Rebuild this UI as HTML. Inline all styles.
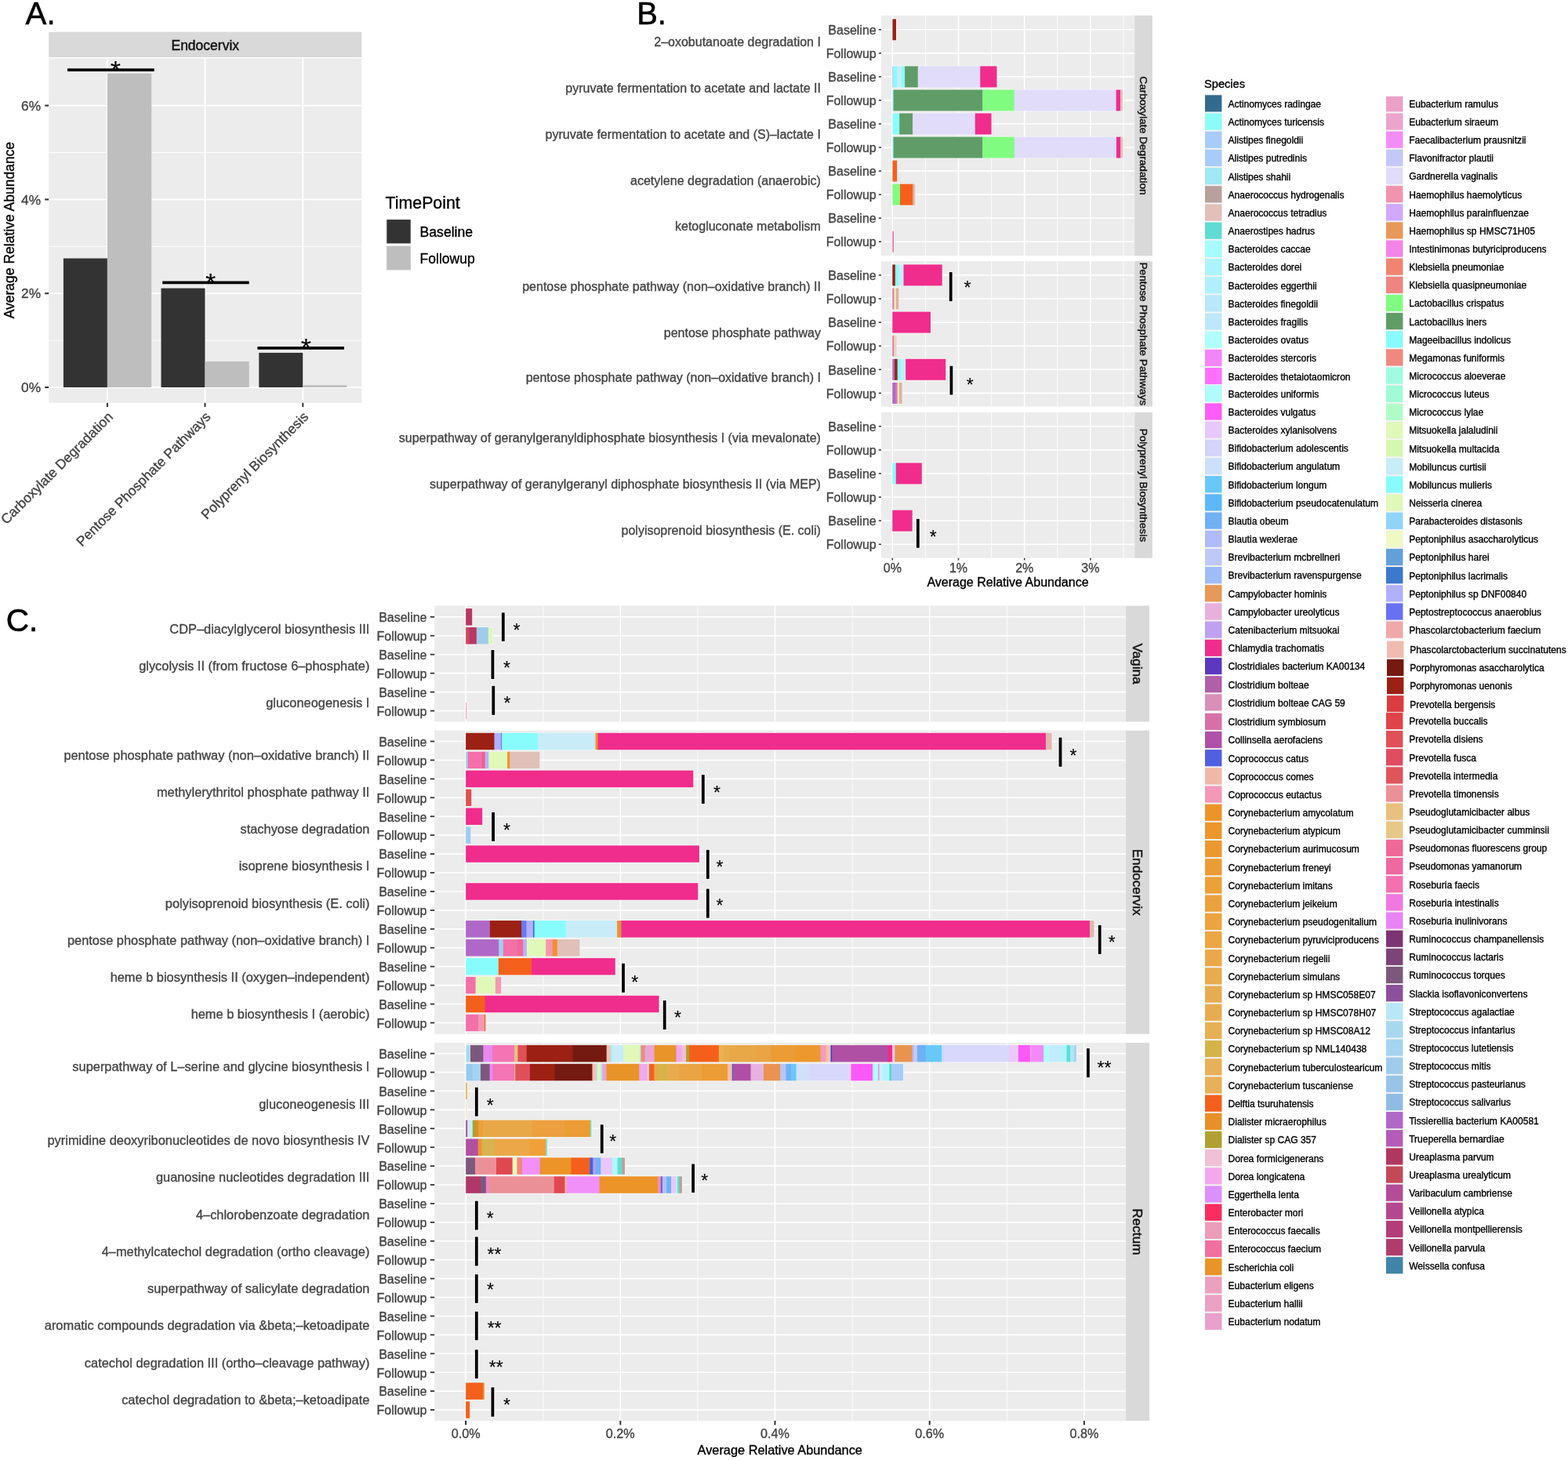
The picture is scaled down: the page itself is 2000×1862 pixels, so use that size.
<!DOCTYPE html>
<html lang="en">
<head>
<meta charset="utf-8">
<title>Figure: pathway abundance by timepoint and species</title>
<style>
html,body{margin:0;padding:0;background:#fff;}
body{width:2000px;height:1862px;overflow:hidden;font-family:"Liberation Sans",Arial,Helvetica,sans-serif;}
svg{display:block;}
text{white-space:pre;}
</style>
</head>
<body>
<svg width="2000" height="1862" viewBox="0 0 2000 1862" font-family="&quot;Liberation Sans&quot;, Arial, Helvetica, sans-serif">
<rect x="0" y="0" width="2000" height="1862" fill="#FFFFFF"/>
<g id="panelA">
<text x="32.5" y="31.1" font-size="40.3" fill="#000" stroke="#000" stroke-width="0.6">A.</text>
<rect x="62.2" y="40.7" width="399.1" height="32.3" fill="#D9D9D9"/>
<text x="261.75" y="64" font-size="17.5" text-anchor="middle" fill="#111111" stroke="#111111" stroke-width="0.45">Endocervix</text>
<rect x="62.2" y="74.4" width="399.1" height="439.4" fill="#EBECEB"/>
<line x1="62.2" y1="434.1" x2="461.3" y2="434.1" stroke="#FFFFFF" stroke-width="1"/>
<line x1="62.2" y1="314.3" x2="461.3" y2="314.3" stroke="#FFFFFF" stroke-width="1"/>
<line x1="62.2" y1="194.5" x2="461.3" y2="194.5" stroke="#FFFFFF" stroke-width="1"/>
<line x1="62.2" y1="494" x2="461.3" y2="494" stroke="#FFFFFF" stroke-width="1.9"/>
<line x1="62.2" y1="374.2" x2="461.3" y2="374.2" stroke="#FFFFFF" stroke-width="1.9"/>
<line x1="62.2" y1="254.4" x2="461.3" y2="254.4" stroke="#FFFFFF" stroke-width="1.9"/>
<line x1="62.2" y1="134.6" x2="461.3" y2="134.6" stroke="#FFFFFF" stroke-width="1.9"/>
<line x1="136.9" y1="74.4" x2="136.9" y2="513.8" stroke="#FFFFFF" stroke-width="1.9"/>
<line x1="261.5" y1="74.4" x2="261.5" y2="513.8" stroke="#FFFFFF" stroke-width="1.9"/>
<line x1="386.3" y1="74.4" x2="386.3" y2="513.8" stroke="#FFFFFF" stroke-width="1.9"/>
<rect x="80.9" y="329.5" width="56" height="164.5" fill="#333333"/>
<rect x="136.9" y="93.7" width="56.3" height="400.3" fill="#BEBEBE"/>
<rect x="205.5" y="367.6" width="56" height="126.4" fill="#333333"/>
<rect x="261.5" y="461" width="56.2" height="33" fill="#BEBEBE"/>
<rect x="330.3" y="449.9" width="56" height="44.1" fill="#333333"/>
<rect x="386.3" y="491.2" width="56" height="2.8" fill="#BEBEBE"/>
<text x="147.4" y="100.6" font-size="34" text-anchor="middle" fill="#000" stroke="#000" stroke-width="0.1">*</text>
<rect x="86" y="87.35" width="110.7" height="3.7" fill="#000"/>
<text x="268.7" y="371.8" font-size="34" text-anchor="middle" fill="#000" stroke="#000" stroke-width="0.1">*</text>
<rect x="207.2" y="358.55" width="110.5" height="3.7" fill="#000"/>
<text x="390.4" y="455.3" font-size="34" text-anchor="middle" fill="#000" stroke="#000" stroke-width="0.1">*</text>
<rect x="328.4" y="442.05" width="110.6" height="3.7" fill="#000"/>
<line x1="57.2" y1="494" x2="62.2" y2="494" stroke="#333333" stroke-width="2.1"/>
<text x="52" y="500.2" font-size="17.3" text-anchor="end" fill="#444444" stroke="#444444" stroke-width="0.35">0%</text>
<line x1="57.2" y1="374.2" x2="62.2" y2="374.2" stroke="#333333" stroke-width="2.1"/>
<text x="52" y="380.4" font-size="17.3" text-anchor="end" fill="#444444" stroke="#444444" stroke-width="0.35">2%</text>
<line x1="57.2" y1="254.4" x2="62.2" y2="254.4" stroke="#333333" stroke-width="2.1"/>
<text x="52" y="260.6" font-size="17.3" text-anchor="end" fill="#444444" stroke="#444444" stroke-width="0.35">4%</text>
<line x1="57.2" y1="134.6" x2="62.2" y2="134.6" stroke="#333333" stroke-width="2.1"/>
<text x="52" y="140.8" font-size="17.3" text-anchor="end" fill="#444444" stroke="#444444" stroke-width="0.35">6%</text>
<line x1="136.9" y1="513.8" x2="136.9" y2="519" stroke="#333333" stroke-width="2"/>
<line x1="261.5" y1="513.8" x2="261.5" y2="519" stroke="#333333" stroke-width="2"/>
<line x1="386.3" y1="513.8" x2="386.3" y2="519" stroke="#333333" stroke-width="2"/>
<text transform="translate(136,523.6) rotate(-45)" x="0" y="12.8" font-size="17.5" text-anchor="end" fill="#444444" stroke="#444444" stroke-width="0.35">Carboxylate Degradation</text>
<text transform="translate(260.6,523.6) rotate(-45)" x="0" y="12.8" font-size="17.5" text-anchor="end" fill="#444444" stroke="#444444" stroke-width="0.35">Pentose Phosphate Pathways</text>
<text transform="translate(385.4,523.6) rotate(-45)" x="0" y="12.8" font-size="17.5" text-anchor="end" fill="#444444" stroke="#444444" stroke-width="0.35">Polyprenyl Biosynthesis</text>
<text transform="translate(17.8,293.6) rotate(-90)" font-size="17.5" text-anchor="middle" fill="#000" stroke="#000" stroke-width="0.35">Average Relative Abundance</text>
<text x="491.6" y="265.9" font-size="21.3" fill="#000" stroke="#000" stroke-width="0.35">TimePoint</text>
<rect x="492.4" y="279.2" width="32.1" height="31.8" fill="#F2F2F2"/>
<rect x="492.4" y="312.8" width="32.1" height="32.2" fill="#F2F2F2"/>
<rect x="493.3" y="280.1" width="30.4" height="30.3" fill="#333333"/>
<rect x="493.3" y="313.8" width="30.4" height="30.4" fill="#BEBEBE"/>
<text x="535.6" y="302.1" font-size="17.6" fill="#000" stroke="#000" stroke-width="0.35">Baseline</text>
<text x="535.6" y="335.9" font-size="17.5" fill="#000" stroke="#000" stroke-width="0.35">Followup</text>
</g>
<g id="panelB">
<text x="812.2" y="31.1" font-size="39.8" fill="#000" stroke="#000" stroke-width="0.6">B.</text>
<rect x="1124" y="19.7" width="323" height="306.5" fill="#EBECEB"/>
<rect x="1447.2" y="19.7" width="22.7" height="306.5" fill="#D9D9D9"/>
<line x1="1180.4" y1="19.7" x2="1180.4" y2="326.2" stroke="#FFFFFF" stroke-width="0.85"/>
<line x1="1264.6" y1="19.7" x2="1264.6" y2="326.2" stroke="#FFFFFF" stroke-width="0.85"/>
<line x1="1348.8" y1="19.7" x2="1348.8" y2="326.2" stroke="#FFFFFF" stroke-width="0.85"/>
<line x1="1433" y1="19.7" x2="1433" y2="326.2" stroke="#FFFFFF" stroke-width="0.85"/>
<line x1="1138.3" y1="19.7" x2="1138.3" y2="326.2" stroke="#FFFFFF" stroke-width="1.6"/>
<line x1="1222.5" y1="19.7" x2="1222.5" y2="326.2" stroke="#FFFFFF" stroke-width="1.6"/>
<line x1="1306.7" y1="19.7" x2="1306.7" y2="326.2" stroke="#FFFFFF" stroke-width="1.6"/>
<line x1="1390.9" y1="19.7" x2="1390.9" y2="326.2" stroke="#FFFFFF" stroke-width="1.6"/>
<line x1="1124" y1="37.8" x2="1447" y2="37.8" stroke="#FFFFFF" stroke-width="1.6"/>
<line x1="1124" y1="67.85" x2="1447" y2="67.85" stroke="#FFFFFF" stroke-width="1.6"/>
<line x1="1124" y1="97.9" x2="1447" y2="97.9" stroke="#FFFFFF" stroke-width="1.6"/>
<line x1="1124" y1="127.95" x2="1447" y2="127.95" stroke="#FFFFFF" stroke-width="1.6"/>
<line x1="1124" y1="158" x2="1447" y2="158" stroke="#FFFFFF" stroke-width="1.6"/>
<line x1="1124" y1="188.05" x2="1447" y2="188.05" stroke="#FFFFFF" stroke-width="1.6"/>
<line x1="1124" y1="218.1" x2="1447" y2="218.1" stroke="#FFFFFF" stroke-width="1.6"/>
<line x1="1124" y1="248.15" x2="1447" y2="248.15" stroke="#FFFFFF" stroke-width="1.6"/>
<line x1="1124" y1="278.2" x2="1447" y2="278.2" stroke="#FFFFFF" stroke-width="1.6"/>
<line x1="1124" y1="308.25" x2="1447" y2="308.25" stroke="#FFFFFF" stroke-width="1.6"/>
<rect x="1137.52" y="23.4" width="6.39" height="28.8" fill="#FFFFFF" fill-opacity="0.5"/>
<rect x="1138.42" y="24.3" width="4.59" height="27" fill="#9C2014"/>
<rect x="1137.52" y="83.5" width="134.84" height="28.8" fill="#FFFFFF" fill-opacity="0.5"/>
<rect x="1138.42" y="84.4" width="1.36" height="27" fill="#A8A8FC"/>
<rect x="1139.19" y="84.4" width="5.76" height="27" fill="#88FCFC"/>
<rect x="1144.35" y="84.4" width="6.14" height="27" fill="#C8ECF8"/>
<rect x="1149.89" y="84.4" width="4.81" height="27" fill="#88FCFC"/>
<rect x="1154.09" y="84.4" width="17.23" height="27" fill="#609C68"/>
<rect x="1170.72" y="84.4" width="80.12" height="27" fill="#E0DCFA"/>
<rect x="1250.24" y="84.4" width="21.22" height="27" fill="#F02C8C"/>
<rect x="1137.52" y="113.55" width="295.4" height="28.8" fill="#FFFFFF" fill-opacity="0.5"/>
<rect x="1138.42" y="114.45" width="1.75" height="27" fill="#88FCFC"/>
<rect x="1139.57" y="114.45" width="114.14" height="27" fill="#609C68"/>
<rect x="1253.11" y="114.45" width="41.12" height="27" fill="#80FC80"/>
<rect x="1293.63" y="114.45" width="130.58" height="27" fill="#E0DCFA"/>
<rect x="1423.61" y="114.45" width="5.95" height="27" fill="#F02C8C"/>
<rect x="1428.96" y="114.45" width="3.06" height="27" fill="#E0C0B8"/>
<rect x="1137.52" y="143.6" width="127.96" height="28.8" fill="#FFFFFF" fill-opacity="0.5"/>
<rect x="1138.42" y="144.5" width="9.39" height="27" fill="#88FCFC"/>
<rect x="1147.21" y="144.5" width="17.42" height="27" fill="#609C68"/>
<rect x="1164.03" y="144.5" width="80.31" height="27" fill="#E0DCFA"/>
<rect x="1243.74" y="144.5" width="20.84" height="27" fill="#F02C8C"/>
<rect x="1137.52" y="173.65" width="295.78" height="28.8" fill="#FFFFFF" fill-opacity="0.5"/>
<rect x="1138.42" y="174.55" width="1.75" height="27" fill="#88FCFC"/>
<rect x="1139.57" y="174.55" width="114.14" height="27" fill="#609C68"/>
<rect x="1253.11" y="174.55" width="41.31" height="27" fill="#80FC80"/>
<rect x="1293.82" y="174.55" width="130.77" height="27" fill="#E0DCFA"/>
<rect x="1423.99" y="174.55" width="5.76" height="27" fill="#F02C8C"/>
<rect x="1429.15" y="174.55" width="3.25" height="27" fill="#E0C0B8"/>
<rect x="1137.52" y="203.7" width="7.53" height="28.8" fill="#FFFFFF" fill-opacity="0.5"/>
<rect x="1138.42" y="204.6" width="5.73" height="27" fill="#F4601C"/>
<rect x="1137.52" y="233.75" width="31.05" height="28.8" fill="#FFFFFF" fill-opacity="0.5"/>
<rect x="1138.42" y="234.65" width="10.16" height="27" fill="#80FC80"/>
<rect x="1147.98" y="234.65" width="16.66" height="27" fill="#F4601C"/>
<rect x="1164.03" y="234.65" width="2.51" height="27" fill="#D8A898"/>
<rect x="1165.95" y="234.65" width="1.72" height="27" fill="#E8C8C0"/>
<rect x="1137.52" y="293.85" width="3.33" height="28.8" fill="#FFFFFF" fill-opacity="0.5"/>
<rect x="1138.42" y="294.75" width="1.53" height="27" fill="#F060A0"/>
<line x1="1120.8" y1="37.8" x2="1124" y2="37.8" stroke="#333333" stroke-width="1.5"/>
<text x="1117.7" y="44" font-size="16" text-anchor="end" fill="#444444" stroke="#444444" stroke-width="0.35">Baseline</text>
<line x1="1120.8" y1="67.85" x2="1124" y2="67.85" stroke="#333333" stroke-width="1.5"/>
<text x="1117.7" y="74.05" font-size="16" text-anchor="end" fill="#444444" stroke="#444444" stroke-width="0.35">Followup</text>
<line x1="1120.8" y1="97.9" x2="1124" y2="97.9" stroke="#333333" stroke-width="1.5"/>
<text x="1117.7" y="104.1" font-size="16" text-anchor="end" fill="#444444" stroke="#444444" stroke-width="0.35">Baseline</text>
<line x1="1120.8" y1="127.95" x2="1124" y2="127.95" stroke="#333333" stroke-width="1.5"/>
<text x="1117.7" y="134.15" font-size="16" text-anchor="end" fill="#444444" stroke="#444444" stroke-width="0.35">Followup</text>
<line x1="1120.8" y1="158" x2="1124" y2="158" stroke="#333333" stroke-width="1.5"/>
<text x="1117.7" y="164.2" font-size="16" text-anchor="end" fill="#444444" stroke="#444444" stroke-width="0.35">Baseline</text>
<line x1="1120.8" y1="188.05" x2="1124" y2="188.05" stroke="#333333" stroke-width="1.5"/>
<text x="1117.7" y="194.25" font-size="16" text-anchor="end" fill="#444444" stroke="#444444" stroke-width="0.35">Followup</text>
<line x1="1120.8" y1="218.1" x2="1124" y2="218.1" stroke="#333333" stroke-width="1.5"/>
<text x="1117.7" y="224.3" font-size="16" text-anchor="end" fill="#444444" stroke="#444444" stroke-width="0.35">Baseline</text>
<line x1="1120.8" y1="248.15" x2="1124" y2="248.15" stroke="#333333" stroke-width="1.5"/>
<text x="1117.7" y="254.35" font-size="16" text-anchor="end" fill="#444444" stroke="#444444" stroke-width="0.35">Followup</text>
<line x1="1120.8" y1="278.2" x2="1124" y2="278.2" stroke="#333333" stroke-width="1.5"/>
<text x="1117.7" y="284.4" font-size="16" text-anchor="end" fill="#444444" stroke="#444444" stroke-width="0.35">Baseline</text>
<line x1="1120.8" y1="308.25" x2="1124" y2="308.25" stroke="#333333" stroke-width="1.5"/>
<text x="1117.7" y="314.45" font-size="16" text-anchor="end" fill="#444444" stroke="#444444" stroke-width="0.35">Followup</text>
<text x="1046.9" y="59.3" font-size="16" text-anchor="end" fill="#444444" stroke="#444444" stroke-width="0.35">2–oxobutanoate degradation I</text>
<text x="1046.9" y="118.1" font-size="16" text-anchor="end" fill="#444444" stroke="#444444" stroke-width="0.35">pyruvate fermentation to acetate and lactate II</text>
<text x="1046.9" y="177.2" font-size="16" text-anchor="end" fill="#444444" stroke="#444444" stroke-width="0.35">pyruvate fermentation to acetate and (S)–lactate I</text>
<text x="1046.9" y="235.5" font-size="16" text-anchor="end" fill="#444444" stroke="#444444" stroke-width="0.35">acetylene degradation (anaerobic)</text>
<text x="1046.9" y="294.4" font-size="16" text-anchor="end" fill="#444444" stroke="#444444" stroke-width="0.35">ketogluconate metabolism</text>
<text transform="translate(1453.65,172.95) rotate(90)" font-size="13.7" text-anchor="middle" fill="#111111" stroke="#111111" stroke-width="0.45">Carboxylate Degradation</text>
<rect x="1124" y="333.1" width="323" height="185.4" fill="#EBECEB"/>
<rect x="1447.2" y="333.1" width="22.7" height="185.4" fill="#D9D9D9"/>
<line x1="1180.4" y1="333.1" x2="1180.4" y2="518.5" stroke="#FFFFFF" stroke-width="0.85"/>
<line x1="1264.6" y1="333.1" x2="1264.6" y2="518.5" stroke="#FFFFFF" stroke-width="0.85"/>
<line x1="1348.8" y1="333.1" x2="1348.8" y2="518.5" stroke="#FFFFFF" stroke-width="0.85"/>
<line x1="1433" y1="333.1" x2="1433" y2="518.5" stroke="#FFFFFF" stroke-width="0.85"/>
<line x1="1138.3" y1="333.1" x2="1138.3" y2="518.5" stroke="#FFFFFF" stroke-width="1.6"/>
<line x1="1222.5" y1="333.1" x2="1222.5" y2="518.5" stroke="#FFFFFF" stroke-width="1.6"/>
<line x1="1306.7" y1="333.1" x2="1306.7" y2="518.5" stroke="#FFFFFF" stroke-width="1.6"/>
<line x1="1390.9" y1="333.1" x2="1390.9" y2="518.5" stroke="#FFFFFF" stroke-width="1.6"/>
<line x1="1124" y1="350.9" x2="1447" y2="350.9" stroke="#FFFFFF" stroke-width="1.6"/>
<line x1="1124" y1="381" x2="1447" y2="381" stroke="#FFFFFF" stroke-width="1.6"/>
<line x1="1124" y1="411.1" x2="1447" y2="411.1" stroke="#FFFFFF" stroke-width="1.6"/>
<line x1="1124" y1="441.2" x2="1447" y2="441.2" stroke="#FFFFFF" stroke-width="1.6"/>
<line x1="1124" y1="471.3" x2="1447" y2="471.3" stroke="#FFFFFF" stroke-width="1.6"/>
<line x1="1124" y1="501.4" x2="1447" y2="501.4" stroke="#FFFFFF" stroke-width="1.6"/>
<rect x="1137.37" y="336.5" width="65.27" height="28.8" fill="#FFFFFF" fill-opacity="0.5"/>
<rect x="1138.27" y="337.4" width="4.17" height="27" fill="#9C2014"/>
<rect x="1141.84" y="337.4" width="5.12" height="27" fill="#88FCFC"/>
<rect x="1146.35" y="337.4" width="6.78" height="27" fill="#C8ECF8"/>
<rect x="1152.53" y="337.4" width="49.21" height="27" fill="#F02C8C"/>
<rect x="1137.37" y="366.6" width="9.88" height="28.8" fill="#FFFFFF" fill-opacity="0.5"/>
<rect x="1138.27" y="367.5" width="2.74" height="27" fill="#F070A8"/>
<rect x="1140.41" y="367.5" width="2.98" height="27" fill="#E0F8B8"/>
<rect x="1142.79" y="367.5" width="3.57" height="27" fill="#E0B0A0"/>
<rect x="1137.37" y="396.7" width="50.53" height="28.8" fill="#FFFFFF" fill-opacity="0.5"/>
<rect x="1138.27" y="397.6" width="48.73" height="27" fill="#F02C8C"/>
<rect x="1137.37" y="426.8" width="6.79" height="28.8" fill="#FFFFFF" fill-opacity="0.5"/>
<rect x="1138.27" y="427.7" width="2.74" height="27" fill="#F070A8"/>
<rect x="1140.41" y="427.7" width="2.5" height="27" fill="#E0F8B8"/>
<rect x="1142.31" y="427.7" width="0.95" height="27" fill="#E0B0A0"/>
<rect x="1137.37" y="456.9" width="69.78" height="28.8" fill="#FFFFFF" fill-opacity="0.5"/>
<rect x="1138.27" y="457.8" width="3.45" height="27" fill="#B068C8"/>
<rect x="1141.12" y="457.8" width="4.17" height="27" fill="#9C2014"/>
<rect x="1144.69" y="457.8" width="5.12" height="27" fill="#88FCFC"/>
<rect x="1149.21" y="457.8" width="6.54" height="27" fill="#C8ECF8"/>
<rect x="1155.15" y="457.8" width="51.11" height="27" fill="#F02C8C"/>
<rect x="1137.37" y="487" width="14.16" height="28.8" fill="#FFFFFF" fill-opacity="0.5"/>
<rect x="1138.27" y="487.9" width="4.64" height="27" fill="#B068C8"/>
<rect x="1142.31" y="487.9" width="2.98" height="27" fill="#F070A8"/>
<rect x="1144.69" y="487.9" width="2.74" height="27" fill="#E0F8B8"/>
<rect x="1146.83" y="487.9" width="3.8" height="27" fill="#E0B0A0"/>
<line x1="1120.8" y1="350.9" x2="1124" y2="350.9" stroke="#333333" stroke-width="1.5"/>
<text x="1117.7" y="357.1" font-size="16" text-anchor="end" fill="#444444" stroke="#444444" stroke-width="0.35">Baseline</text>
<line x1="1120.8" y1="381" x2="1124" y2="381" stroke="#333333" stroke-width="1.5"/>
<text x="1117.7" y="387.2" font-size="16" text-anchor="end" fill="#444444" stroke="#444444" stroke-width="0.35">Followup</text>
<line x1="1120.8" y1="411.1" x2="1124" y2="411.1" stroke="#333333" stroke-width="1.5"/>
<text x="1117.7" y="417.3" font-size="16" text-anchor="end" fill="#444444" stroke="#444444" stroke-width="0.35">Baseline</text>
<line x1="1120.8" y1="441.2" x2="1124" y2="441.2" stroke="#333333" stroke-width="1.5"/>
<text x="1117.7" y="447.4" font-size="16" text-anchor="end" fill="#444444" stroke="#444444" stroke-width="0.35">Followup</text>
<line x1="1120.8" y1="471.3" x2="1124" y2="471.3" stroke="#333333" stroke-width="1.5"/>
<text x="1117.7" y="477.5" font-size="16" text-anchor="end" fill="#444444" stroke="#444444" stroke-width="0.35">Baseline</text>
<line x1="1120.8" y1="501.4" x2="1124" y2="501.4" stroke="#333333" stroke-width="1.5"/>
<text x="1117.7" y="507.6" font-size="16" text-anchor="end" fill="#444444" stroke="#444444" stroke-width="0.35">Followup</text>
<text x="1046.9" y="370.6" font-size="16" text-anchor="end" fill="#444444" stroke="#444444" stroke-width="0.35">pentose phosphate pathway (non–oxidative branch) II</text>
<text x="1046.9" y="429.8" font-size="16" text-anchor="end" fill="#444444" stroke="#444444" stroke-width="0.35">pentose phosphate pathway</text>
<text x="1046.9" y="487.1" font-size="16" text-anchor="end" fill="#444444" stroke="#444444" stroke-width="0.35">pentose phosphate pathway (non–oxidative branch) I</text>
<text transform="translate(1453.65,425.8) rotate(90)" font-size="13.7" text-anchor="middle" fill="#111111" stroke="#111111" stroke-width="0.45">Pentose Phosphate Pathways</text>
<rect x="1124" y="525.9" width="323" height="185.8" fill="#EBECEB"/>
<rect x="1447.2" y="525.9" width="22.7" height="185.8" fill="#D9D9D9"/>
<line x1="1180.4" y1="525.9" x2="1180.4" y2="711.7" stroke="#FFFFFF" stroke-width="0.85"/>
<line x1="1264.6" y1="525.9" x2="1264.6" y2="711.7" stroke="#FFFFFF" stroke-width="0.85"/>
<line x1="1348.8" y1="525.9" x2="1348.8" y2="711.7" stroke="#FFFFFF" stroke-width="0.85"/>
<line x1="1433" y1="525.9" x2="1433" y2="711.7" stroke="#FFFFFF" stroke-width="0.85"/>
<line x1="1138.3" y1="525.9" x2="1138.3" y2="711.7" stroke="#FFFFFF" stroke-width="1.6"/>
<line x1="1222.5" y1="525.9" x2="1222.5" y2="711.7" stroke="#FFFFFF" stroke-width="1.6"/>
<line x1="1306.7" y1="525.9" x2="1306.7" y2="711.7" stroke="#FFFFFF" stroke-width="1.6"/>
<line x1="1390.9" y1="525.9" x2="1390.9" y2="711.7" stroke="#FFFFFF" stroke-width="1.6"/>
<line x1="1124" y1="543.7" x2="1447" y2="543.7" stroke="#FFFFFF" stroke-width="1.6"/>
<line x1="1124" y1="573.8" x2="1447" y2="573.8" stroke="#FFFFFF" stroke-width="1.6"/>
<line x1="1124" y1="603.9" x2="1447" y2="603.9" stroke="#FFFFFF" stroke-width="1.6"/>
<line x1="1124" y1="634" x2="1447" y2="634" stroke="#FFFFFF" stroke-width="1.6"/>
<line x1="1124" y1="664.1" x2="1447" y2="664.1" stroke="#FFFFFF" stroke-width="1.6"/>
<line x1="1124" y1="694.2" x2="1447" y2="694.2" stroke="#FFFFFF" stroke-width="1.6"/>
<rect x="1137.37" y="589.5" width="39.36" height="28.8" fill="#FFFFFF" fill-opacity="0.5"/>
<rect x="1138.27" y="590.4" width="5.12" height="27" fill="#88FCFC"/>
<rect x="1142.79" y="590.4" width="33.04" height="27" fill="#F02C8C"/>
<rect x="1137.37" y="649.7" width="27.23" height="28.8" fill="#FFFFFF" fill-opacity="0.5"/>
<rect x="1138.27" y="650.6" width="25.43" height="27" fill="#F02C8C"/>
<line x1="1120.8" y1="543.7" x2="1124" y2="543.7" stroke="#333333" stroke-width="1.5"/>
<text x="1117.7" y="549.9" font-size="16" text-anchor="end" fill="#444444" stroke="#444444" stroke-width="0.35">Baseline</text>
<line x1="1120.8" y1="573.8" x2="1124" y2="573.8" stroke="#333333" stroke-width="1.5"/>
<text x="1117.7" y="580" font-size="16" text-anchor="end" fill="#444444" stroke="#444444" stroke-width="0.35">Followup</text>
<line x1="1120.8" y1="603.9" x2="1124" y2="603.9" stroke="#333333" stroke-width="1.5"/>
<text x="1117.7" y="610.1" font-size="16" text-anchor="end" fill="#444444" stroke="#444444" stroke-width="0.35">Baseline</text>
<line x1="1120.8" y1="634" x2="1124" y2="634" stroke="#333333" stroke-width="1.5"/>
<text x="1117.7" y="640.2" font-size="16" text-anchor="end" fill="#444444" stroke="#444444" stroke-width="0.35">Followup</text>
<line x1="1120.8" y1="664.1" x2="1124" y2="664.1" stroke="#333333" stroke-width="1.5"/>
<text x="1117.7" y="670.3" font-size="16" text-anchor="end" fill="#444444" stroke="#444444" stroke-width="0.35">Baseline</text>
<line x1="1120.8" y1="694.2" x2="1124" y2="694.2" stroke="#333333" stroke-width="1.5"/>
<text x="1117.7" y="700.4" font-size="16" text-anchor="end" fill="#444444" stroke="#444444" stroke-width="0.35">Followup</text>
<text x="1046.9" y="564.25" font-size="16" text-anchor="end" fill="#444444" stroke="#444444" stroke-width="0.35">superpathway of geranylgeranyldiphosphate biosynthesis I (via mevalonate)</text>
<text x="1046.9" y="622.85" font-size="16" text-anchor="end" fill="#444444" stroke="#444444" stroke-width="0.35">superpathway of geranylgeranyl diphosphate biosynthesis II (via MEP)</text>
<text x="1046.9" y="682.45" font-size="16" text-anchor="end" fill="#444444" stroke="#444444" stroke-width="0.35">polyisoprenoid biosynthesis (E. coli)</text>
<text transform="translate(1453.65,618.8) rotate(90)" font-size="13.7" text-anchor="middle" fill="#111111" stroke="#111111" stroke-width="0.45">Polyprenyl Biosynthesis</text>
<rect x="1209.8" y="346.1" width="5.8" height="39.1" fill="#FFFFFF" fill-opacity="0.7"/>
<rect x="1210.8" y="347.1" width="3.8" height="37.1" fill="#000"/>
<text x="1234.1" y="375.4" font-size="23" text-anchor="middle" fill="#000" stroke="#000" stroke-width="0.1">*</text>
<rect x="1210.5" y="465.7" width="5.8" height="38.8" fill="#FFFFFF" fill-opacity="0.7"/>
<rect x="1211.5" y="466.7" width="3.8" height="36.8" fill="#000"/>
<text x="1237.2" y="499.2" font-size="23" text-anchor="middle" fill="#000" stroke="#000" stroke-width="0.1">*</text>
<rect x="1167.9" y="660.8" width="5.8" height="38.9" fill="#FFFFFF" fill-opacity="0.7"/>
<rect x="1168.9" y="661.8" width="3.8" height="36.9" fill="#000"/>
<text x="1190.3" y="692.8" font-size="23" text-anchor="middle" fill="#000" stroke="#000" stroke-width="0.1">*</text>
<line x1="1138.3" y1="711.7" x2="1138.3" y2="714.5" stroke="#333333" stroke-width="1.5"/>
<text x="1138.3" y="729.6" font-size="16" text-anchor="middle" fill="#444444" stroke="#444444" stroke-width="0.35">0%</text>
<line x1="1222.5" y1="711.7" x2="1222.5" y2="714.5" stroke="#333333" stroke-width="1.5"/>
<text x="1222.5" y="729.6" font-size="16" text-anchor="middle" fill="#444444" stroke="#444444" stroke-width="0.35">1%</text>
<line x1="1306.7" y1="711.7" x2="1306.7" y2="714.5" stroke="#333333" stroke-width="1.5"/>
<text x="1306.7" y="729.6" font-size="16" text-anchor="middle" fill="#444444" stroke="#444444" stroke-width="0.35">2%</text>
<line x1="1390.9" y1="711.7" x2="1390.9" y2="714.5" stroke="#333333" stroke-width="1.5"/>
<text x="1390.9" y="729.6" font-size="16" text-anchor="middle" fill="#444444" stroke="#444444" stroke-width="0.35">3%</text>
<text x="1285.5" y="748.1" font-size="16" text-anchor="middle" fill="#000" stroke="#000" stroke-width="0.35">Average Relative Abundance</text>
</g>
<g id="panelC">
<text x="7.7" y="804.7" font-size="40.6" fill="#000" stroke="#000" stroke-width="0.6">C.</text>
<rect x="554.2" y="772.5" width="881.7" height="148" fill="#EBECEB"/>
<rect x="1436.1" y="772.5" width="29.9" height="148" fill="#D9D9D9"/>
<line x1="692.7" y1="772.5" x2="692.7" y2="920.5" stroke="#FFFFFF" stroke-width="0.85"/>
<line x1="889.9" y1="772.5" x2="889.9" y2="920.5" stroke="#FFFFFF" stroke-width="0.85"/>
<line x1="1087.1" y1="772.5" x2="1087.1" y2="920.5" stroke="#FFFFFF" stroke-width="0.85"/>
<line x1="1284.3" y1="772.5" x2="1284.3" y2="920.5" stroke="#FFFFFF" stroke-width="0.85"/>
<line x1="594.1" y1="772.5" x2="594.1" y2="920.5" stroke="#FFFFFF" stroke-width="1.6"/>
<line x1="791.3" y1="772.5" x2="791.3" y2="920.5" stroke="#FFFFFF" stroke-width="1.6"/>
<line x1="988.5" y1="772.5" x2="988.5" y2="920.5" stroke="#FFFFFF" stroke-width="1.6"/>
<line x1="1185.7" y1="772.5" x2="1185.7" y2="920.5" stroke="#FFFFFF" stroke-width="1.6"/>
<line x1="1382.9" y1="772.5" x2="1382.9" y2="920.5" stroke="#FFFFFF" stroke-width="1.6"/>
<line x1="554.2" y1="786.8" x2="1435.9" y2="786.8" stroke="#FFFFFF" stroke-width="1.6"/>
<line x1="554.2" y1="810.75" x2="1435.9" y2="810.75" stroke="#FFFFFF" stroke-width="1.6"/>
<line x1="554.2" y1="834.7" x2="1435.9" y2="834.7" stroke="#FFFFFF" stroke-width="1.6"/>
<line x1="554.2" y1="858.65" x2="1435.9" y2="858.65" stroke="#FFFFFF" stroke-width="1.6"/>
<line x1="554.2" y1="882.6" x2="1435.9" y2="882.6" stroke="#FFFFFF" stroke-width="1.6"/>
<line x1="554.2" y1="906.55" x2="1435.9" y2="906.55" stroke="#FFFFFF" stroke-width="1.6"/>
<rect x="593.24" y="775.15" width="9.9" height="23.3" fill="#FFFFFF" fill-opacity="0.5"/>
<rect x="594.14" y="776.05" width="8.1" height="21.5" fill="#B83864"/>
<rect x="593.24" y="799.1" width="35.81" height="23.3" fill="#FFFFFF" fill-opacity="0.5"/>
<rect x="594.14" y="800" width="4.76" height="21.5" fill="#CC4860"/>
<rect x="598.31" y="800" width="10.09" height="21.5" fill="#B83864"/>
<rect x="607.8" y="800" width="15.64" height="21.5" fill="#A0CCEC"/>
<rect x="622.84" y="800" width="5.32" height="21.5" fill="#E0F8B8"/>
<rect x="593.24" y="894.9" width="2.96" height="23.3" fill="#FFFFFF" fill-opacity="0.5"/>
<rect x="594.14" y="895.8" width="1.16" height="21.5" fill="#F8A0C0"/>
<line x1="548.8" y1="786.8" x2="554.2" y2="786.8" stroke="#333333" stroke-width="1.8"/>
<text x="544.5" y="793.1" font-size="16" text-anchor="end" fill="#444444" stroke="#444444" stroke-width="0.35">Baseline</text>
<line x1="548.8" y1="810.75" x2="554.2" y2="810.75" stroke="#333333" stroke-width="1.8"/>
<text x="544.5" y="817.05" font-size="16" text-anchor="end" fill="#444444" stroke="#444444" stroke-width="0.35">Followup</text>
<line x1="548.8" y1="834.7" x2="554.2" y2="834.7" stroke="#333333" stroke-width="1.8"/>
<text x="544.5" y="841" font-size="16" text-anchor="end" fill="#444444" stroke="#444444" stroke-width="0.35">Baseline</text>
<line x1="548.8" y1="858.65" x2="554.2" y2="858.65" stroke="#333333" stroke-width="1.8"/>
<text x="544.5" y="864.95" font-size="16" text-anchor="end" fill="#444444" stroke="#444444" stroke-width="0.35">Followup</text>
<line x1="548.8" y1="882.6" x2="554.2" y2="882.6" stroke="#333333" stroke-width="1.8"/>
<text x="544.5" y="888.9" font-size="16" text-anchor="end" fill="#444444" stroke="#444444" stroke-width="0.35">Baseline</text>
<line x1="548.8" y1="906.55" x2="554.2" y2="906.55" stroke="#333333" stroke-width="1.8"/>
<text x="544.5" y="912.85" font-size="16" text-anchor="end" fill="#444444" stroke="#444444" stroke-width="0.35">Followup</text>
<text x="471.4" y="807.6" font-size="16.4" text-anchor="end" fill="#444444" stroke="#444444" stroke-width="0.35">CDP–diacylglycerol biosynthesis III</text>
<line x1="476.5" y1="794.6" x2="476.5" y2="809.6" stroke="#F4F4F4" stroke-width="1"/>
<text x="471.4" y="855.3" font-size="16.4" text-anchor="end" fill="#444444" stroke="#444444" stroke-width="0.35">glycolysis II (from fructose 6–phosphate)</text>
<line x1="476.5" y1="842.3" x2="476.5" y2="857.3" stroke="#F4F4F4" stroke-width="1"/>
<text x="471.4" y="902.1" font-size="16.4" text-anchor="end" fill="#444444" stroke="#444444" stroke-width="0.35">gluconeogenesis I</text>
<line x1="476.5" y1="889.1" x2="476.5" y2="904.1" stroke="#F4F4F4" stroke-width="1"/>
<text transform="translate(1444.95,846.5) rotate(90)" font-size="17.2" text-anchor="middle" fill="#111111" stroke="#111111" stroke-width="0.45">Vagina</text>
<rect x="554.2" y="931.6" width="881.7" height="387.1" fill="#EBECEB"/>
<rect x="1436.1" y="931.6" width="29.9" height="387.1" fill="#D9D9D9"/>
<line x1="692.7" y1="931.6" x2="692.7" y2="1318.7" stroke="#FFFFFF" stroke-width="0.85"/>
<line x1="889.9" y1="931.6" x2="889.9" y2="1318.7" stroke="#FFFFFF" stroke-width="0.85"/>
<line x1="1087.1" y1="931.6" x2="1087.1" y2="1318.7" stroke="#FFFFFF" stroke-width="0.85"/>
<line x1="1284.3" y1="931.6" x2="1284.3" y2="1318.7" stroke="#FFFFFF" stroke-width="0.85"/>
<line x1="594.1" y1="931.6" x2="594.1" y2="1318.7" stroke="#FFFFFF" stroke-width="1.6"/>
<line x1="791.3" y1="931.6" x2="791.3" y2="1318.7" stroke="#FFFFFF" stroke-width="1.6"/>
<line x1="988.5" y1="931.6" x2="988.5" y2="1318.7" stroke="#FFFFFF" stroke-width="1.6"/>
<line x1="1185.7" y1="931.6" x2="1185.7" y2="1318.7" stroke="#FFFFFF" stroke-width="1.6"/>
<line x1="1382.9" y1="931.6" x2="1382.9" y2="1318.7" stroke="#FFFFFF" stroke-width="1.6"/>
<line x1="554.2" y1="945.5" x2="1435.9" y2="945.5" stroke="#FFFFFF" stroke-width="1.6"/>
<line x1="554.2" y1="969.43" x2="1435.9" y2="969.43" stroke="#FFFFFF" stroke-width="1.6"/>
<line x1="554.2" y1="993.36" x2="1435.9" y2="993.36" stroke="#FFFFFF" stroke-width="1.6"/>
<line x1="554.2" y1="1017.29" x2="1435.9" y2="1017.29" stroke="#FFFFFF" stroke-width="1.6"/>
<line x1="554.2" y1="1041.22" x2="1435.9" y2="1041.22" stroke="#FFFFFF" stroke-width="1.6"/>
<line x1="554.2" y1="1065.15" x2="1435.9" y2="1065.15" stroke="#FFFFFF" stroke-width="1.6"/>
<line x1="554.2" y1="1089.08" x2="1435.9" y2="1089.08" stroke="#FFFFFF" stroke-width="1.6"/>
<line x1="554.2" y1="1113.01" x2="1435.9" y2="1113.01" stroke="#FFFFFF" stroke-width="1.6"/>
<line x1="554.2" y1="1136.94" x2="1435.9" y2="1136.94" stroke="#FFFFFF" stroke-width="1.6"/>
<line x1="554.2" y1="1160.87" x2="1435.9" y2="1160.87" stroke="#FFFFFF" stroke-width="1.6"/>
<line x1="554.2" y1="1184.8" x2="1435.9" y2="1184.8" stroke="#FFFFFF" stroke-width="1.6"/>
<line x1="554.2" y1="1208.73" x2="1435.9" y2="1208.73" stroke="#FFFFFF" stroke-width="1.6"/>
<line x1="554.2" y1="1232.66" x2="1435.9" y2="1232.66" stroke="#FFFFFF" stroke-width="1.6"/>
<line x1="554.2" y1="1256.59" x2="1435.9" y2="1256.59" stroke="#FFFFFF" stroke-width="1.6"/>
<line x1="554.2" y1="1280.52" x2="1435.9" y2="1280.52" stroke="#FFFFFF" stroke-width="1.6"/>
<line x1="554.2" y1="1304.45" x2="1435.9" y2="1304.45" stroke="#FFFFFF" stroke-width="1.6"/>
<rect x="593.24" y="933.85" width="749.31" height="23.3" fill="#FFFFFF" fill-opacity="0.5"/>
<rect x="594.14" y="934.75" width="36.93" height="21.5" fill="#9C2014"/>
<rect x="630.47" y="934.75" width="9.16" height="21.5" fill="#B0B0FC"/>
<rect x="639.03" y="934.75" width="1.76" height="21.5" fill="#6080F0"/>
<rect x="640.19" y="934.75" width="46.41" height="21.5" fill="#88FCFC"/>
<rect x="686.01" y="934.75" width="74.18" height="21.5" fill="#C8ECF8"/>
<rect x="759.59" y="934.75" width="3.61" height="21.5" fill="#F09020"/>
<rect x="762.6" y="934.75" width="571.93" height="21.5" fill="#F02C8C"/>
<rect x="1333.92" y="934.75" width="7.73" height="21.5" fill="#E0B8B0"/>
<rect x="593.24" y="957.78" width="95.98" height="23.3" fill="#FFFFFF" fill-opacity="0.5"/>
<rect x="594.14" y="958.68" width="3.15" height="21.5" fill="#A0D0F0"/>
<rect x="596.69" y="958.68" width="18.42" height="21.5" fill="#F470A8"/>
<rect x="614.51" y="958.68" width="4.76" height="21.5" fill="#F06090"/>
<rect x="618.67" y="958.68" width="5.23" height="21.5" fill="#B8B0FC"/>
<rect x="623.3" y="958.68" width="24.43" height="21.5" fill="#E0F8B8"/>
<rect x="647.13" y="958.68" width="3.61" height="21.5" fill="#F09020"/>
<rect x="650.14" y="958.68" width="38.18" height="21.5" fill="#E0C0B8"/>
<rect x="593.24" y="981.71" width="291.96" height="23.3" fill="#FFFFFF" fill-opacity="0.5"/>
<rect x="594.14" y="982.61" width="290.16" height="21.5" fill="#F02C8C"/>
<rect x="593.24" y="1005.64" width="8.97" height="23.3" fill="#FFFFFF" fill-opacity="0.5"/>
<rect x="594.14" y="1006.54" width="7.17" height="21.5" fill="#E05050"/>
<rect x="593.24" y="1029.57" width="22.86" height="23.3" fill="#FFFFFF" fill-opacity="0.5"/>
<rect x="594.14" y="1030.47" width="21.06" height="21.5" fill="#F02C8C"/>
<rect x="593.24" y="1053.5" width="8.05" height="23.3" fill="#FFFFFF" fill-opacity="0.5"/>
<rect x="594.14" y="1054.4" width="6.25" height="21.5" fill="#A0CCEC"/>
<rect x="593.24" y="1077.43" width="299.6" height="23.3" fill="#FFFFFF" fill-opacity="0.5"/>
<rect x="594.14" y="1078.33" width="297.8" height="21.5" fill="#F02C8C"/>
<rect x="593.24" y="1125.29" width="297.98" height="23.3" fill="#FFFFFF" fill-opacity="0.5"/>
<rect x="594.14" y="1126.19" width="296.18" height="21.5" fill="#F02C8C"/>
<rect x="593.24" y="1173.15" width="803.15" height="23.3" fill="#FFFFFF" fill-opacity="0.5"/>
<rect x="594.14" y="1174.05" width="31.37" height="21.5" fill="#B068C8"/>
<rect x="624.92" y="1174.05" width="40.86" height="21.5" fill="#9C2014"/>
<rect x="665.18" y="1174.05" width="6.85" height="21.5" fill="#6878F8"/>
<rect x="671.43" y="1174.05" width="9.16" height="21.5" fill="#B0B0FC"/>
<rect x="679.99" y="1174.05" width="2.22" height="21.5" fill="#3070D0"/>
<rect x="681.61" y="1174.05" width="40.4" height="21.5" fill="#88FCFC"/>
<rect x="721.41" y="1174.05" width="66.31" height="21.5" fill="#C8ECF8"/>
<rect x="787.12" y="1174.05" width="5.69" height="21.5" fill="#F09030"/>
<rect x="792.21" y="1174.05" width="1.53" height="21.5" fill="#B050C0"/>
<rect x="793.14" y="1174.05" width="597.4" height="21.5" fill="#F02C8C"/>
<rect x="1389.94" y="1174.05" width="5.55" height="21.5" fill="#E0B8B0"/>
<rect x="593.24" y="1197.08" width="147.11" height="23.3" fill="#FFFFFF" fill-opacity="0.5"/>
<rect x="594.14" y="1197.98" width="42.71" height="21.5" fill="#B068C8"/>
<rect x="636.26" y="1197.98" width="6.15" height="21.5" fill="#A0D0F0"/>
<rect x="641.81" y="1197.98" width="18.65" height="21.5" fill="#F470A8"/>
<rect x="659.86" y="1197.98" width="8" height="21.5" fill="#F06898"/>
<rect x="667.26" y="1197.98" width="5.23" height="21.5" fill="#B8B0FC"/>
<rect x="671.89" y="1197.98" width="24.9" height="21.5" fill="#E0F8B8"/>
<rect x="696.19" y="1197.98" width="9.16" height="21.5" fill="#F498B0"/>
<rect x="704.75" y="1197.98" width="6.62" height="21.5" fill="#F09030"/>
<rect x="710.76" y="1197.98" width="28.69" height="21.5" fill="#E0C0B8"/>
<rect x="593.24" y="1221.01" width="192.46" height="23.3" fill="#FFFFFF" fill-opacity="0.5"/>
<rect x="594.14" y="1221.91" width="42.25" height="21.5" fill="#88FCFC"/>
<rect x="635.79" y="1221.91" width="42.94" height="21.5" fill="#F4601C"/>
<rect x="678.14" y="1221.91" width="106.67" height="21.5" fill="#F02C8C"/>
<rect x="593.24" y="1244.94" width="46.92" height="23.3" fill="#FFFFFF" fill-opacity="0.5"/>
<rect x="594.14" y="1245.84" width="13.09" height="21.5" fill="#F470A8"/>
<rect x="606.64" y="1245.84" width="25.82" height="21.5" fill="#E0F8B8"/>
<rect x="631.86" y="1245.84" width="7.4" height="21.5" fill="#F498B0"/>
<rect x="593.24" y="1268.87" width="248.23" height="23.3" fill="#FFFFFF" fill-opacity="0.5"/>
<rect x="594.14" y="1269.77" width="25.13" height="21.5" fill="#F4601C"/>
<rect x="618.67" y="1269.77" width="221.9" height="21.5" fill="#F02C8C"/>
<rect x="593.24" y="1292.8" width="27.02" height="23.3" fill="#FFFFFF" fill-opacity="0.5"/>
<rect x="594.14" y="1293.7" width="16.57" height="21.5" fill="#F470A8"/>
<rect x="610.11" y="1293.7" width="8.47" height="21.5" fill="#F498B0"/>
<rect x="617.98" y="1293.7" width="1.39" height="21.5" fill="#F4601C"/>
<line x1="548.8" y1="945.5" x2="554.2" y2="945.5" stroke="#333333" stroke-width="1.8"/>
<text x="544.5" y="951.8" font-size="16" text-anchor="end" fill="#444444" stroke="#444444" stroke-width="0.35">Baseline</text>
<line x1="548.8" y1="969.43" x2="554.2" y2="969.43" stroke="#333333" stroke-width="1.8"/>
<text x="544.5" y="975.73" font-size="16" text-anchor="end" fill="#444444" stroke="#444444" stroke-width="0.35">Followup</text>
<line x1="548.8" y1="993.36" x2="554.2" y2="993.36" stroke="#333333" stroke-width="1.8"/>
<text x="544.5" y="999.66" font-size="16" text-anchor="end" fill="#444444" stroke="#444444" stroke-width="0.35">Baseline</text>
<line x1="548.8" y1="1017.29" x2="554.2" y2="1017.29" stroke="#333333" stroke-width="1.8"/>
<text x="544.5" y="1023.59" font-size="16" text-anchor="end" fill="#444444" stroke="#444444" stroke-width="0.35">Followup</text>
<line x1="548.8" y1="1041.22" x2="554.2" y2="1041.22" stroke="#333333" stroke-width="1.8"/>
<text x="544.5" y="1047.52" font-size="16" text-anchor="end" fill="#444444" stroke="#444444" stroke-width="0.35">Baseline</text>
<line x1="548.8" y1="1065.15" x2="554.2" y2="1065.15" stroke="#333333" stroke-width="1.8"/>
<text x="544.5" y="1071.45" font-size="16" text-anchor="end" fill="#444444" stroke="#444444" stroke-width="0.35">Followup</text>
<line x1="548.8" y1="1089.08" x2="554.2" y2="1089.08" stroke="#333333" stroke-width="1.8"/>
<text x="544.5" y="1095.38" font-size="16" text-anchor="end" fill="#444444" stroke="#444444" stroke-width="0.35">Baseline</text>
<line x1="548.8" y1="1113.01" x2="554.2" y2="1113.01" stroke="#333333" stroke-width="1.8"/>
<text x="544.5" y="1119.31" font-size="16" text-anchor="end" fill="#444444" stroke="#444444" stroke-width="0.35">Followup</text>
<line x1="548.8" y1="1136.94" x2="554.2" y2="1136.94" stroke="#333333" stroke-width="1.8"/>
<text x="544.5" y="1143.24" font-size="16" text-anchor="end" fill="#444444" stroke="#444444" stroke-width="0.35">Baseline</text>
<line x1="548.8" y1="1160.87" x2="554.2" y2="1160.87" stroke="#333333" stroke-width="1.8"/>
<text x="544.5" y="1167.17" font-size="16" text-anchor="end" fill="#444444" stroke="#444444" stroke-width="0.35">Followup</text>
<line x1="548.8" y1="1184.8" x2="554.2" y2="1184.8" stroke="#333333" stroke-width="1.8"/>
<text x="544.5" y="1191.1" font-size="16" text-anchor="end" fill="#444444" stroke="#444444" stroke-width="0.35">Baseline</text>
<line x1="548.8" y1="1208.73" x2="554.2" y2="1208.73" stroke="#333333" stroke-width="1.8"/>
<text x="544.5" y="1215.03" font-size="16" text-anchor="end" fill="#444444" stroke="#444444" stroke-width="0.35">Followup</text>
<line x1="548.8" y1="1232.66" x2="554.2" y2="1232.66" stroke="#333333" stroke-width="1.8"/>
<text x="544.5" y="1238.96" font-size="16" text-anchor="end" fill="#444444" stroke="#444444" stroke-width="0.35">Baseline</text>
<line x1="548.8" y1="1256.59" x2="554.2" y2="1256.59" stroke="#333333" stroke-width="1.8"/>
<text x="544.5" y="1262.89" font-size="16" text-anchor="end" fill="#444444" stroke="#444444" stroke-width="0.35">Followup</text>
<line x1="548.8" y1="1280.52" x2="554.2" y2="1280.52" stroke="#333333" stroke-width="1.8"/>
<text x="544.5" y="1286.82" font-size="16" text-anchor="end" fill="#444444" stroke="#444444" stroke-width="0.35">Baseline</text>
<line x1="548.8" y1="1304.45" x2="554.2" y2="1304.45" stroke="#333333" stroke-width="1.8"/>
<text x="544.5" y="1310.75" font-size="16" text-anchor="end" fill="#444444" stroke="#444444" stroke-width="0.35">Followup</text>
<text x="471.4" y="969.1" font-size="16.4" text-anchor="end" fill="#444444" stroke="#444444" stroke-width="0.35">pentose phosphate pathway (non–oxidative branch) II</text>
<line x1="476.5" y1="956.1" x2="476.5" y2="971.1" stroke="#F4F4F4" stroke-width="1"/>
<text x="471.4" y="1015.9" font-size="16.4" text-anchor="end" fill="#444444" stroke="#444444" stroke-width="0.35">methylerythritol phosphate pathway II</text>
<line x1="476.5" y1="1002.9" x2="476.5" y2="1017.9" stroke="#F4F4F4" stroke-width="1"/>
<text x="471.4" y="1063.3" font-size="16.4" text-anchor="end" fill="#444444" stroke="#444444" stroke-width="0.35">stachyose degradation</text>
<line x1="476.5" y1="1050.3" x2="476.5" y2="1065.3" stroke="#F4F4F4" stroke-width="1"/>
<text x="471.4" y="1109.8" font-size="16.4" text-anchor="end" fill="#444444" stroke="#444444" stroke-width="0.35">isoprene biosynthesis I</text>
<line x1="476.5" y1="1096.8" x2="476.5" y2="1111.8" stroke="#F4F4F4" stroke-width="1"/>
<text x="471.4" y="1157.9" font-size="16.4" text-anchor="end" fill="#444444" stroke="#444444" stroke-width="0.35">polyisoprenoid biosynthesis (E. coli)</text>
<line x1="476.5" y1="1144.9" x2="476.5" y2="1159.9" stroke="#F4F4F4" stroke-width="1"/>
<text x="471.4" y="1204.7" font-size="16.4" text-anchor="end" fill="#444444" stroke="#444444" stroke-width="0.35">pentose phosphate pathway (non–oxidative branch) I</text>
<line x1="476.5" y1="1191.7" x2="476.5" y2="1206.7" stroke="#F4F4F4" stroke-width="1"/>
<text x="471.4" y="1252.1" font-size="16.4" text-anchor="end" fill="#444444" stroke="#444444" stroke-width="0.35">heme b biosynthesis II (oxygen–independent)</text>
<line x1="476.5" y1="1239.1" x2="476.5" y2="1254.1" stroke="#F4F4F4" stroke-width="1"/>
<text x="471.4" y="1299.2" font-size="16.4" text-anchor="end" fill="#444444" stroke="#444444" stroke-width="0.35">heme b biosynthesis I (aerobic)</text>
<line x1="476.5" y1="1286.2" x2="476.5" y2="1301.2" stroke="#F4F4F4" stroke-width="1"/>
<text transform="translate(1444.95,1125.15) rotate(90)" font-size="17.2" text-anchor="middle" fill="#111111" stroke="#111111" stroke-width="0.45">Endocervix</text>
<rect x="554.2" y="1329.9" width="881.7" height="482" fill="#EBECEB"/>
<rect x="1436.1" y="1329.9" width="29.9" height="482" fill="#D9D9D9"/>
<line x1="692.7" y1="1329.9" x2="692.7" y2="1811.9" stroke="#FFFFFF" stroke-width="0.85"/>
<line x1="889.9" y1="1329.9" x2="889.9" y2="1811.9" stroke="#FFFFFF" stroke-width="0.85"/>
<line x1="1087.1" y1="1329.9" x2="1087.1" y2="1811.9" stroke="#FFFFFF" stroke-width="0.85"/>
<line x1="1284.3" y1="1329.9" x2="1284.3" y2="1811.9" stroke="#FFFFFF" stroke-width="0.85"/>
<line x1="594.1" y1="1329.9" x2="594.1" y2="1811.9" stroke="#FFFFFF" stroke-width="1.6"/>
<line x1="791.3" y1="1329.9" x2="791.3" y2="1811.9" stroke="#FFFFFF" stroke-width="1.6"/>
<line x1="988.5" y1="1329.9" x2="988.5" y2="1811.9" stroke="#FFFFFF" stroke-width="1.6"/>
<line x1="1185.7" y1="1329.9" x2="1185.7" y2="1811.9" stroke="#FFFFFF" stroke-width="1.6"/>
<line x1="1382.9" y1="1329.9" x2="1382.9" y2="1811.9" stroke="#FFFFFF" stroke-width="1.6"/>
<line x1="554.2" y1="1343.6" x2="1435.9" y2="1343.6" stroke="#FFFFFF" stroke-width="1.6"/>
<line x1="554.2" y1="1367.52" x2="1435.9" y2="1367.52" stroke="#FFFFFF" stroke-width="1.6"/>
<line x1="554.2" y1="1391.44" x2="1435.9" y2="1391.44" stroke="#FFFFFF" stroke-width="1.6"/>
<line x1="554.2" y1="1415.36" x2="1435.9" y2="1415.36" stroke="#FFFFFF" stroke-width="1.6"/>
<line x1="554.2" y1="1439.28" x2="1435.9" y2="1439.28" stroke="#FFFFFF" stroke-width="1.6"/>
<line x1="554.2" y1="1463.2" x2="1435.9" y2="1463.2" stroke="#FFFFFF" stroke-width="1.6"/>
<line x1="554.2" y1="1487.12" x2="1435.9" y2="1487.12" stroke="#FFFFFF" stroke-width="1.6"/>
<line x1="554.2" y1="1511.04" x2="1435.9" y2="1511.04" stroke="#FFFFFF" stroke-width="1.6"/>
<line x1="554.2" y1="1534.96" x2="1435.9" y2="1534.96" stroke="#FFFFFF" stroke-width="1.6"/>
<line x1="554.2" y1="1558.88" x2="1435.9" y2="1558.88" stroke="#FFFFFF" stroke-width="1.6"/>
<line x1="554.2" y1="1582.8" x2="1435.9" y2="1582.8" stroke="#FFFFFF" stroke-width="1.6"/>
<line x1="554.2" y1="1606.72" x2="1435.9" y2="1606.72" stroke="#FFFFFF" stroke-width="1.6"/>
<line x1="554.2" y1="1630.64" x2="1435.9" y2="1630.64" stroke="#FFFFFF" stroke-width="1.6"/>
<line x1="554.2" y1="1654.56" x2="1435.9" y2="1654.56" stroke="#FFFFFF" stroke-width="1.6"/>
<line x1="554.2" y1="1678.48" x2="1435.9" y2="1678.48" stroke="#FFFFFF" stroke-width="1.6"/>
<line x1="554.2" y1="1702.4" x2="1435.9" y2="1702.4" stroke="#FFFFFF" stroke-width="1.6"/>
<line x1="554.2" y1="1726.32" x2="1435.9" y2="1726.32" stroke="#FFFFFF" stroke-width="1.6"/>
<line x1="554.2" y1="1750.24" x2="1435.9" y2="1750.24" stroke="#FFFFFF" stroke-width="1.6"/>
<line x1="554.2" y1="1774.16" x2="1435.9" y2="1774.16" stroke="#FFFFFF" stroke-width="1.6"/>
<line x1="554.2" y1="1798.08" x2="1435.9" y2="1798.08" stroke="#FFFFFF" stroke-width="1.6"/>
<rect x="593.59" y="1331.95" width="780.25" height="23.3" fill="#FFFFFF" fill-opacity="0.5"/>
<rect x="594.49" y="1332.85" width="5.11" height="21.5" fill="#A8D8F0"/>
<rect x="598.99" y="1332.85" width="1.57" height="21.5" fill="#C0E0F0"/>
<rect x="599.96" y="1332.85" width="17.02" height="21.5" fill="#7C587C"/>
<rect x="616.38" y="1332.85" width="12.19" height="21.5" fill="#E888F0"/>
<rect x="627.97" y="1332.85" width="28.61" height="21.5" fill="#F474B4"/>
<rect x="655.98" y="1332.85" width="5.11" height="21.5" fill="#E8C080"/>
<rect x="660.48" y="1332.85" width="11.87" height="21.5" fill="#E05058"/>
<rect x="671.75" y="1332.85" width="59.35" height="21.5" fill="#9C2014"/>
<rect x="730.5" y="1332.85" width="43.74" height="21.5" fill="#741A10"/>
<rect x="773.64" y="1332.85" width="5.91" height="21.5" fill="#F4C0B8"/>
<rect x="778.95" y="1332.85" width="2.85" height="21.5" fill="#A0F4FC"/>
<rect x="781.21" y="1332.85" width="14.76" height="21.5" fill="#C8ECF8"/>
<rect x="795.37" y="1332.85" width="21.04" height="21.5" fill="#E0F8B8"/>
<rect x="815.81" y="1332.85" width="2.21" height="21.5" fill="#B0F0E0"/>
<rect x="817.42" y="1332.85" width="5.91" height="21.5" fill="#F08C78"/>
<rect x="822.74" y="1332.85" width="2.53" height="21.5" fill="#D0B0F0"/>
<rect x="824.67" y="1332.85" width="10.58" height="21.5" fill="#ECA4D0"/>
<rect x="834.65" y="1332.85" width="28.45" height="21.5" fill="#E89428"/>
<rect x="862.49" y="1332.85" width="7.84" height="21.5" fill="#F0A8F0"/>
<rect x="869.74" y="1332.85" width="5.91" height="21.5" fill="#F4C0D0"/>
<rect x="875.05" y="1332.85" width="4.62" height="21.5" fill="#B0A030"/>
<rect x="879.07" y="1332.85" width="38.35" height="21.5" fill="#F4601C"/>
<rect x="916.82" y="1332.85" width="6.56" height="21.5" fill="#ECB050"/>
<rect x="922.78" y="1332.85" width="7.04" height="21.5" fill="#E8AC4C"/>
<rect x="929.22" y="1332.85" width="36.01" height="21.5" fill="#E8A848"/>
<rect x="964.63" y="1332.85" width="19.59" height="21.5" fill="#EAA444"/>
<rect x="983.62" y="1332.85" width="31.51" height="21.5" fill="#EC9C34"/>
<rect x="1014.53" y="1332.85" width="23.94" height="21.5" fill="#EC982C"/>
<rect x="1037.87" y="1332.85" width="9.13" height="21.5" fill="#EC9830"/>
<rect x="1046.4" y="1332.85" width="7.84" height="21.5" fill="#F49CB8"/>
<rect x="1053.64" y="1332.85" width="6.56" height="21.5" fill="#F4C0A8"/>
<rect x="1059.6" y="1332.85" width="2.21" height="21.5" fill="#2040E0"/>
<rect x="1061.21" y="1332.85" width="71.91" height="21.5" fill="#B050A4"/>
<rect x="1132.52" y="1332.85" width="6.23" height="21.5" fill="#F02C8C"/>
<rect x="1138.15" y="1332.85" width="3.82" height="21.5" fill="#E8C8F0"/>
<rect x="1141.37" y="1332.85" width="22.91" height="21.5" fill="#E89450"/>
<rect x="1163.68" y="1332.85" width="3.01" height="21.5" fill="#B0C0F8"/>
<rect x="1166.1" y="1332.85" width="4.3" height="21.5" fill="#C8C8FC"/>
<rect x="1169.8" y="1332.85" width="11.38" height="21.5" fill="#70B0F4"/>
<rect x="1180.58" y="1332.85" width="21.2" height="21.5" fill="#68C8F8"/>
<rect x="1201.19" y="1332.85" width="4.14" height="21.5" fill="#C8DCFC"/>
<rect x="1204.73" y="1332.85" width="82.69" height="21.5" fill="#D8D8FC"/>
<rect x="1286.82" y="1332.85" width="12.67" height="21.5" fill="#ECC8FC"/>
<rect x="1298.89" y="1332.85" width="15.57" height="21.5" fill="#FC58F8"/>
<rect x="1313.86" y="1332.85" width="2.21" height="21.5" fill="#F8A0F0"/>
<rect x="1315.47" y="1332.85" width="16.21" height="21.5" fill="#F488F8"/>
<rect x="1331.09" y="1332.85" width="7.52" height="21.5" fill="#B0FCFC"/>
<rect x="1338.01" y="1332.85" width="16.21" height="21.5" fill="#C0ECFC"/>
<rect x="1353.62" y="1332.85" width="7.52" height="21.5" fill="#B0F4FC"/>
<rect x="1360.54" y="1332.85" width="4.95" height="21.5" fill="#60DCD0"/>
<rect x="1364.89" y="1332.85" width="5.91" height="21.5" fill="#A8E8F8"/>
<rect x="1370.2" y="1332.85" width="2.74" height="21.5" fill="#A8CCF8"/>
<rect x="593.59" y="1355.87" width="559.47" height="23.3" fill="#FFFFFF" fill-opacity="0.5"/>
<rect x="594.49" y="1356.77" width="8.65" height="21.5" fill="#98C8EC"/>
<rect x="602.54" y="1356.77" width="11.06" height="21.5" fill="#A4D4F0"/>
<rect x="613" y="1356.77" width="12.19" height="21.5" fill="#7C587C"/>
<rect x="624.59" y="1356.77" width="4.62" height="21.5" fill="#E888F0"/>
<rect x="628.61" y="1356.77" width="27.96" height="21.5" fill="#F474B4"/>
<rect x="655.98" y="1356.77" width="1.89" height="21.5" fill="#E8C080"/>
<rect x="657.26" y="1356.77" width="19.27" height="21.5" fill="#E05058"/>
<rect x="675.94" y="1356.77" width="32.31" height="21.5" fill="#9C2014"/>
<rect x="707.65" y="1356.77" width="48.41" height="21.5" fill="#741A10"/>
<rect x="755.45" y="1356.77" width="5.91" height="21.5" fill="#F4C0B8"/>
<rect x="760.76" y="1356.77" width="2.05" height="21.5" fill="#A0F4FC"/>
<rect x="762.21" y="1356.77" width="4.79" height="21.5" fill="#E0F8B8"/>
<rect x="766.4" y="1356.77" width="2.21" height="21.5" fill="#B0E8F0"/>
<rect x="768.01" y="1356.77" width="2.85" height="21.5" fill="#D0B0F0"/>
<rect x="770.26" y="1356.77" width="3.98" height="21.5" fill="#F4A0C0"/>
<rect x="773.64" y="1356.77" width="42.29" height="21.5" fill="#E89428"/>
<rect x="815.33" y="1356.77" width="10.74" height="21.5" fill="#F0A8F0"/>
<rect x="825.47" y="1356.77" width="3.01" height="21.5" fill="#F8D0E0"/>
<rect x="827.89" y="1356.77" width="7.04" height="21.5" fill="#F4601C"/>
<rect x="834.33" y="1356.77" width="4.62" height="21.5" fill="#E8A848"/>
<rect x="838.35" y="1356.77" width="13.48" height="21.5" fill="#D8B448"/>
<rect x="851.23" y="1356.77" width="15.81" height="21.5" fill="#E8AC4C"/>
<rect x="866.44" y="1356.77" width="29.57" height="21.5" fill="#EAA444"/>
<rect x="895.41" y="1356.77" width="33.28" height="21.5" fill="#EC9C34"/>
<rect x="928.09" y="1356.77" width="6.23" height="21.5" fill="#F4C0A8"/>
<rect x="933.72" y="1356.77" width="1.89" height="21.5" fill="#4060E0"/>
<rect x="935.01" y="1356.77" width="23.14" height="21.5" fill="#B050A4"/>
<rect x="957.55" y="1356.77" width="17.02" height="21.5" fill="#E8B0E0"/>
<rect x="973.96" y="1356.77" width="21.85" height="21.5" fill="#E89450"/>
<rect x="995.21" y="1356.77" width="7.84" height="21.5" fill="#B8C4F8"/>
<rect x="1002.45" y="1356.77" width="7.04" height="21.5" fill="#70B0F4"/>
<rect x="1008.89" y="1356.77" width="7.2" height="21.5" fill="#68C8F8"/>
<rect x="1015.49" y="1356.77" width="16.54" height="21.5" fill="#D0E0FC"/>
<rect x="1031.43" y="1356.77" width="50.5" height="21.5" fill="#D8D8FC"/>
<rect x="1081.33" y="1356.77" width="4.95" height="21.5" fill="#F0D0FC"/>
<rect x="1085.67" y="1356.77" width="27.96" height="21.5" fill="#FC58F8"/>
<rect x="1113.04" y="1356.77" width="7.52" height="21.5" fill="#B0FCFC"/>
<rect x="1119.96" y="1356.77" width="2.21" height="21.5" fill="#F090E0"/>
<rect x="1121.57" y="1356.77" width="5.43" height="21.5" fill="#C8F0FC"/>
<rect x="1126.4" y="1356.77" width="8.65" height="21.5" fill="#B0F4FC"/>
<rect x="1134.45" y="1356.77" width="3.01" height="21.5" fill="#50D8C0"/>
<rect x="1136.86" y="1356.77" width="15.29" height="21.5" fill="#A8CCF8"/>
<rect x="593.24" y="1379.79" width="3.42" height="23.3" fill="#FFFFFF" fill-opacity="0.5"/>
<rect x="594.14" y="1380.69" width="1.62" height="21.5" fill="#ECA848"/>
<rect x="593.24" y="1403.71" width="2.73" height="23.3" fill="#FFFFFF" fill-opacity="0.5"/>
<rect x="594.14" y="1404.61" width="0.93" height="21.5" fill="#F0E0C0"/>
<rect x="593.24" y="1427.63" width="162.85" height="23.3" fill="#FFFFFF" fill-opacity="0.5"/>
<rect x="594.14" y="1428.53" width="2.68" height="21.5" fill="#B050A0"/>
<rect x="596.23" y="1428.53" width="7.08" height="21.5" fill="#C8ECF8"/>
<rect x="602.71" y="1428.53" width="6.15" height="21.5" fill="#B0A030"/>
<rect x="608.26" y="1428.53" width="2.22" height="21.5" fill="#F08020"/>
<rect x="609.88" y="1428.53" width="7.08" height="21.5" fill="#ECA038"/>
<rect x="616.36" y="1428.53" width="63.07" height="21.5" fill="#E8A848"/>
<rect x="678.83" y="1428.53" width="42.25" height="21.5" fill="#ECA040"/>
<rect x="720.48" y="1428.53" width="33.46" height="21.5" fill="#EC9C34"/>
<rect x="753.34" y="1428.53" width="1.85" height="21.5" fill="#80FFF0"/>
<rect x="593.24" y="1451.55" width="105.92" height="23.3" fill="#FFFFFF" fill-opacity="0.5"/>
<rect x="594.14" y="1452.45" width="16.1" height="21.5" fill="#B050A0"/>
<rect x="609.65" y="1452.45" width="5.46" height="21.5" fill="#F09030"/>
<rect x="614.51" y="1452.45" width="16.8" height="21.5" fill="#D8B450"/>
<rect x="630.7" y="1452.45" width="44.56" height="21.5" fill="#ECA848"/>
<rect x="674.67" y="1452.45" width="22.35" height="21.5" fill="#F0A038"/>
<rect x="696.42" y="1452.45" width="1.85" height="21.5" fill="#80E8E0"/>
<rect x="593.24" y="1475.47" width="204.73" height="23.3" fill="#FFFFFF" fill-opacity="0.5"/>
<rect x="594.14" y="1476.37" width="12.4" height="21.5" fill="#7C587C"/>
<rect x="605.95" y="1476.37" width="27.67" height="21.5" fill="#EC9098"/>
<rect x="633.02" y="1476.37" width="21.19" height="21.5" fill="#E04850"/>
<rect x="653.61" y="1476.37" width="6.38" height="21.5" fill="#F8F8B8"/>
<rect x="659.4" y="1476.37" width="7.08" height="21.5" fill="#F08878"/>
<rect x="665.88" y="1476.37" width="23.51" height="21.5" fill="#F090F8"/>
<rect x="688.78" y="1476.37" width="40.17" height="21.5" fill="#EC9428"/>
<rect x="728.35" y="1476.37" width="24.43" height="21.5" fill="#F4601C"/>
<rect x="752.18" y="1476.37" width="4.76" height="21.5" fill="#4860E0"/>
<rect x="756.35" y="1476.37" width="3.84" height="21.5" fill="#B0A0F0"/>
<rect x="759.59" y="1476.37" width="7.31" height="21.5" fill="#70B0F8"/>
<rect x="766.3" y="1476.37" width="15.18" height="21.5" fill="#E8C8FC"/>
<rect x="780.88" y="1476.37" width="7.31" height="21.5" fill="#B0F8FC"/>
<rect x="787.59" y="1476.37" width="6.15" height="21.5" fill="#60E0D0"/>
<rect x="793.14" y="1476.37" width="3.93" height="21.5" fill="#C0A098"/>
<rect x="593.24" y="1499.39" width="277.61" height="23.3" fill="#FFFFFF" fill-opacity="0.5"/>
<rect x="594.14" y="1500.29" width="19.34" height="21.5" fill="#B03868"/>
<rect x="612.89" y="1500.29" width="7.54" height="21.5" fill="#7C587C"/>
<rect x="619.83" y="1500.29" width="3.38" height="21.5" fill="#F080E0"/>
<rect x="622.61" y="1500.29" width="84.83" height="21.5" fill="#EC9098"/>
<rect x="706.83" y="1500.29" width="14.25" height="21.5" fill="#E04850"/>
<rect x="720.48" y="1500.29" width="2.45" height="21.5" fill="#E8C080"/>
<rect x="722.33" y="1500.29" width="42.94" height="21.5" fill="#F090F8"/>
<rect x="764.68" y="1500.29" width="75.11" height="21.5" fill="#EC9428"/>
<rect x="839.19" y="1500.29" width="4.07" height="21.5" fill="#F090B0"/>
<rect x="842.66" y="1500.29" width="2.91" height="21.5" fill="#8060E0"/>
<rect x="844.97" y="1500.29" width="5.69" height="21.5" fill="#B0C0F8"/>
<rect x="850.06" y="1500.29" width="6.62" height="21.5" fill="#70B0F8"/>
<rect x="856.08" y="1500.29" width="6.62" height="21.5" fill="#E8C8FC"/>
<rect x="862.09" y="1500.29" width="2.45" height="21.5" fill="#B0F8FC"/>
<rect x="863.94" y="1500.29" width="2.91" height="21.5" fill="#60E0D0"/>
<rect x="866.26" y="1500.29" width="3.7" height="21.5" fill="#C0A098"/>
<rect x="593.24" y="1762.51" width="25.63" height="23.3" fill="#FFFFFF" fill-opacity="0.5"/>
<rect x="594.14" y="1763.41" width="22.81" height="21.5" fill="#F4601C"/>
<rect x="616.36" y="1763.41" width="1.62" height="21.5" fill="#F0A040"/>
<rect x="593.24" y="1786.43" width="6.89" height="23.3" fill="#FFFFFF" fill-opacity="0.5"/>
<rect x="594.14" y="1787.33" width="5.09" height="21.5" fill="#F4601C"/>
<line x1="548.8" y1="1343.6" x2="554.2" y2="1343.6" stroke="#333333" stroke-width="1.8"/>
<text x="544.5" y="1349.9" font-size="16" text-anchor="end" fill="#444444" stroke="#444444" stroke-width="0.35">Baseline</text>
<line x1="548.8" y1="1367.52" x2="554.2" y2="1367.52" stroke="#333333" stroke-width="1.8"/>
<text x="544.5" y="1373.82" font-size="16" text-anchor="end" fill="#444444" stroke="#444444" stroke-width="0.35">Followup</text>
<line x1="548.8" y1="1391.44" x2="554.2" y2="1391.44" stroke="#333333" stroke-width="1.8"/>
<text x="544.5" y="1397.74" font-size="16" text-anchor="end" fill="#444444" stroke="#444444" stroke-width="0.35">Baseline</text>
<line x1="548.8" y1="1415.36" x2="554.2" y2="1415.36" stroke="#333333" stroke-width="1.8"/>
<text x="544.5" y="1421.66" font-size="16" text-anchor="end" fill="#444444" stroke="#444444" stroke-width="0.35">Followup</text>
<line x1="548.8" y1="1439.28" x2="554.2" y2="1439.28" stroke="#333333" stroke-width="1.8"/>
<text x="544.5" y="1445.58" font-size="16" text-anchor="end" fill="#444444" stroke="#444444" stroke-width="0.35">Baseline</text>
<line x1="548.8" y1="1463.2" x2="554.2" y2="1463.2" stroke="#333333" stroke-width="1.8"/>
<text x="544.5" y="1469.5" font-size="16" text-anchor="end" fill="#444444" stroke="#444444" stroke-width="0.35">Followup</text>
<line x1="548.8" y1="1487.12" x2="554.2" y2="1487.12" stroke="#333333" stroke-width="1.8"/>
<text x="544.5" y="1493.42" font-size="16" text-anchor="end" fill="#444444" stroke="#444444" stroke-width="0.35">Baseline</text>
<line x1="548.8" y1="1511.04" x2="554.2" y2="1511.04" stroke="#333333" stroke-width="1.8"/>
<text x="544.5" y="1517.34" font-size="16" text-anchor="end" fill="#444444" stroke="#444444" stroke-width="0.35">Followup</text>
<line x1="548.8" y1="1534.96" x2="554.2" y2="1534.96" stroke="#333333" stroke-width="1.8"/>
<text x="544.5" y="1541.26" font-size="16" text-anchor="end" fill="#444444" stroke="#444444" stroke-width="0.35">Baseline</text>
<line x1="548.8" y1="1558.88" x2="554.2" y2="1558.88" stroke="#333333" stroke-width="1.8"/>
<text x="544.5" y="1565.18" font-size="16" text-anchor="end" fill="#444444" stroke="#444444" stroke-width="0.35">Followup</text>
<line x1="548.8" y1="1582.8" x2="554.2" y2="1582.8" stroke="#333333" stroke-width="1.8"/>
<text x="544.5" y="1589.1" font-size="16" text-anchor="end" fill="#444444" stroke="#444444" stroke-width="0.35">Baseline</text>
<line x1="548.8" y1="1606.72" x2="554.2" y2="1606.72" stroke="#333333" stroke-width="1.8"/>
<text x="544.5" y="1613.02" font-size="16" text-anchor="end" fill="#444444" stroke="#444444" stroke-width="0.35">Followup</text>
<line x1="548.8" y1="1630.64" x2="554.2" y2="1630.64" stroke="#333333" stroke-width="1.8"/>
<text x="544.5" y="1636.94" font-size="16" text-anchor="end" fill="#444444" stroke="#444444" stroke-width="0.35">Baseline</text>
<line x1="548.8" y1="1654.56" x2="554.2" y2="1654.56" stroke="#333333" stroke-width="1.8"/>
<text x="544.5" y="1660.86" font-size="16" text-anchor="end" fill="#444444" stroke="#444444" stroke-width="0.35">Followup</text>
<line x1="548.8" y1="1678.48" x2="554.2" y2="1678.48" stroke="#333333" stroke-width="1.8"/>
<text x="544.5" y="1684.78" font-size="16" text-anchor="end" fill="#444444" stroke="#444444" stroke-width="0.35">Baseline</text>
<line x1="548.8" y1="1702.4" x2="554.2" y2="1702.4" stroke="#333333" stroke-width="1.8"/>
<text x="544.5" y="1708.7" font-size="16" text-anchor="end" fill="#444444" stroke="#444444" stroke-width="0.35">Followup</text>
<line x1="548.8" y1="1726.32" x2="554.2" y2="1726.32" stroke="#333333" stroke-width="1.8"/>
<text x="544.5" y="1732.62" font-size="16" text-anchor="end" fill="#444444" stroke="#444444" stroke-width="0.35">Baseline</text>
<line x1="548.8" y1="1750.24" x2="554.2" y2="1750.24" stroke="#333333" stroke-width="1.8"/>
<text x="544.5" y="1756.54" font-size="16" text-anchor="end" fill="#444444" stroke="#444444" stroke-width="0.35">Followup</text>
<line x1="548.8" y1="1774.16" x2="554.2" y2="1774.16" stroke="#333333" stroke-width="1.8"/>
<text x="544.5" y="1780.46" font-size="16" text-anchor="end" fill="#444444" stroke="#444444" stroke-width="0.35">Baseline</text>
<line x1="548.8" y1="1798.08" x2="554.2" y2="1798.08" stroke="#333333" stroke-width="1.8"/>
<text x="544.5" y="1804.38" font-size="16" text-anchor="end" fill="#444444" stroke="#444444" stroke-width="0.35">Followup</text>
<text x="471.4" y="1366.2" font-size="16.4" text-anchor="end" fill="#444444" stroke="#444444" stroke-width="0.35">superpathway of L–serine and glycine biosynthesis I</text>
<line x1="476.5" y1="1353.2" x2="476.5" y2="1368.2" stroke="#F4F4F4" stroke-width="1"/>
<text x="471.4" y="1413.6" font-size="16.4" text-anchor="end" fill="#444444" stroke="#444444" stroke-width="0.35">gluconeogenesis III</text>
<line x1="476.5" y1="1400.6" x2="476.5" y2="1415.6" stroke="#F4F4F4" stroke-width="1"/>
<text x="471.4" y="1460.4" font-size="16.4" text-anchor="end" fill="#444444" stroke="#444444" stroke-width="0.35">pyrimidine deoxyribonucleotides de novo biosynthesis IV</text>
<line x1="476.5" y1="1447.4" x2="476.5" y2="1462.4" stroke="#F4F4F4" stroke-width="1"/>
<text x="471.4" y="1507.4" font-size="16.4" text-anchor="end" fill="#444444" stroke="#444444" stroke-width="0.35">guanosine nucleotides degradation III</text>
<line x1="476.5" y1="1494.4" x2="476.5" y2="1509.4" stroke="#F4F4F4" stroke-width="1"/>
<text x="471.4" y="1554.8" font-size="16.4" text-anchor="end" fill="#444444" stroke="#444444" stroke-width="0.35">4–chlorobenzoate degradation</text>
<line x1="476.5" y1="1541.8" x2="476.5" y2="1556.8" stroke="#F4F4F4" stroke-width="1"/>
<text x="471.4" y="1601.9" font-size="16.4" text-anchor="end" fill="#444444" stroke="#444444" stroke-width="0.35">4–methylcatechol degradation (ortho cleavage)</text>
<line x1="476.5" y1="1588.9" x2="476.5" y2="1603.9" stroke="#F4F4F4" stroke-width="1"/>
<text x="471.4" y="1649.3" font-size="16.4" text-anchor="end" fill="#444444" stroke="#444444" stroke-width="0.35">superpathway of salicylate degradation</text>
<line x1="476.5" y1="1636.3" x2="476.5" y2="1651.3" stroke="#F4F4F4" stroke-width="1"/>
<text x="471.4" y="1696.4" font-size="16.4" text-anchor="end" fill="#444444" stroke="#444444" stroke-width="0.35">aromatic compounds degradation via &amp;beta;–ketoadipate</text>
<line x1="476.5" y1="1683.4" x2="476.5" y2="1698.4" stroke="#F4F4F4" stroke-width="1"/>
<text x="471.4" y="1743.5" font-size="16.4" text-anchor="end" fill="#444444" stroke="#444444" stroke-width="0.35">catechol degradation III (ortho–cleavage pathway)</text>
<line x1="476.5" y1="1730.5" x2="476.5" y2="1745.5" stroke="#F4F4F4" stroke-width="1"/>
<text x="471.4" y="1790.9" font-size="16.4" text-anchor="end" fill="#444444" stroke="#444444" stroke-width="0.35">catechol degradation to &amp;beta;–ketoadipate</text>
<line x1="476.5" y1="1777.9" x2="476.5" y2="1792.9" stroke="#F4F4F4" stroke-width="1"/>
<text transform="translate(1444.95,1570.9) rotate(90)" font-size="17.2" text-anchor="middle" fill="#111111" stroke="#111111" stroke-width="0.45">Rectum</text>
<rect x="638.9" y="780.3" width="5.8" height="38.5" fill="#FFFFFF" fill-opacity="0.7"/>
<rect x="639.9" y="781.3" width="3.8" height="36.5" fill="#000"/>
<text x="658.9" y="811.8" font-size="23" text-anchor="middle" fill="#000" stroke="#000" stroke-width="0.1">*</text>
<rect x="625.5" y="828" width="5.8" height="39" fill="#FFFFFF" fill-opacity="0.7"/>
<rect x="626.5" y="829" width="3.8" height="37" fill="#000"/>
<text x="646.4" y="859.6" font-size="23" text-anchor="middle" fill="#000" stroke="#000" stroke-width="0.1">*</text>
<rect x="626.4" y="873.8" width="5.8" height="39" fill="#FFFFFF" fill-opacity="0.7"/>
<rect x="627.4" y="874.8" width="3.8" height="37" fill="#000"/>
<text x="646.9" y="905.2" font-size="23" text-anchor="middle" fill="#000" stroke="#000" stroke-width="0.1">*</text>
<rect x="1349.6" y="939.6" width="5.8" height="39.2" fill="#FFFFFF" fill-opacity="0.7"/>
<rect x="1350.6" y="940.6" width="3.8" height="37.2" fill="#000"/>
<text x="1368.9" y="971.5" font-size="23" text-anchor="middle" fill="#000" stroke="#000" stroke-width="0.1">*</text>
<rect x="893.9" y="987.1" width="5.8" height="38.9" fill="#FFFFFF" fill-opacity="0.7"/>
<rect x="894.9" y="988.1" width="3.8" height="36.9" fill="#000"/>
<text x="914.4" y="1018.8" font-size="23" text-anchor="middle" fill="#000" stroke="#000" stroke-width="0.1">*</text>
<rect x="626.2" y="1035" width="5.8" height="38.8" fill="#FFFFFF" fill-opacity="0.7"/>
<rect x="627.2" y="1036" width="3.8" height="36.8" fill="#000"/>
<text x="646.4" y="1067.1" font-size="23" text-anchor="middle" fill="#000" stroke="#000" stroke-width="0.1">*</text>
<rect x="899.9" y="1082.9" width="5.8" height="39" fill="#FFFFFF" fill-opacity="0.7"/>
<rect x="900.9" y="1083.9" width="3.8" height="37" fill="#000"/>
<text x="918.1" y="1113.6" font-size="23" text-anchor="middle" fill="#000" stroke="#000" stroke-width="0.1">*</text>
<rect x="899.9" y="1132.6" width="5.8" height="39.1" fill="#FFFFFF" fill-opacity="0.7"/>
<rect x="900.9" y="1133.6" width="3.8" height="37.1" fill="#000"/>
<text x="918.1" y="1162.6" font-size="23" text-anchor="middle" fill="#000" stroke="#000" stroke-width="0.1">*</text>
<rect x="1399.8" y="1178.9" width="5.8" height="38.9" fill="#FFFFFF" fill-opacity="0.7"/>
<rect x="1400.8" y="1179.9" width="3.8" height="36.9" fill="#000"/>
<text x="1418.2" y="1210.3" font-size="23" text-anchor="middle" fill="#000" stroke="#000" stroke-width="0.1">*</text>
<rect x="792.1" y="1227.7" width="5.8" height="39.1" fill="#FFFFFF" fill-opacity="0.7"/>
<rect x="793.1" y="1228.7" width="3.8" height="37.1" fill="#000"/>
<text x="809.8" y="1260.5" font-size="23" text-anchor="middle" fill="#000" stroke="#000" stroke-width="0.1">*</text>
<rect x="844.8" y="1274.9" width="5.8" height="39.1" fill="#FFFFFF" fill-opacity="0.7"/>
<rect x="845.8" y="1275.9" width="3.8" height="37.1" fill="#000"/>
<text x="864.6" y="1306.3" font-size="23" text-anchor="middle" fill="#000" stroke="#000" stroke-width="0.1">*</text>
<rect x="1385" y="1336.1" width="5.8" height="39" fill="#FFFFFF" fill-opacity="0.7"/>
<rect x="1386" y="1337.1" width="3.8" height="37" fill="#000"/>
<text x="1408.4" y="1370" font-size="23" text-anchor="middle" fill="#000" stroke="#000" stroke-width="0.1">**</text>
<rect x="604.9" y="1385.8" width="5.8" height="38.8" fill="#FFFFFF" fill-opacity="0.7"/>
<rect x="605.9" y="1386.8" width="3.8" height="36.8" fill="#000"/>
<text x="625.2" y="1417.7" font-size="23" text-anchor="middle" fill="#000" stroke="#000" stroke-width="0.1">*</text>
<rect x="764.8" y="1433.3" width="5.8" height="38.5" fill="#FFFFFF" fill-opacity="0.7"/>
<rect x="765.8" y="1434.3" width="3.8" height="36.5" fill="#000"/>
<text x="781.8" y="1463.9" font-size="23" text-anchor="middle" fill="#000" stroke="#000" stroke-width="0.1">*</text>
<rect x="881.2" y="1483.5" width="5.8" height="38.5" fill="#FFFFFF" fill-opacity="0.7"/>
<rect x="882.2" y="1484.5" width="3.8" height="36.5" fill="#000"/>
<text x="898.7" y="1514.4" font-size="23" text-anchor="middle" fill="#000" stroke="#000" stroke-width="0.1">*</text>
<rect x="604.9" y="1530.7" width="5.8" height="38.8" fill="#FFFFFF" fill-opacity="0.7"/>
<rect x="605.9" y="1531.7" width="3.8" height="36.8" fill="#000"/>
<text x="625.2" y="1561.8" font-size="23" text-anchor="middle" fill="#000" stroke="#000" stroke-width="0.1">*</text>
<rect x="604.9" y="1576.4" width="5.8" height="39" fill="#FFFFFF" fill-opacity="0.7"/>
<rect x="605.9" y="1577.4" width="3.8" height="37" fill="#000"/>
<text x="630.4" y="1607.5" font-size="23" text-anchor="middle" fill="#000" stroke="#000" stroke-width="0.1">**</text>
<rect x="604.9" y="1624.3" width="5.8" height="38.5" fill="#FFFFFF" fill-opacity="0.7"/>
<rect x="605.9" y="1625.3" width="3.8" height="36.5" fill="#000"/>
<text x="625.6" y="1653.1" font-size="23" text-anchor="middle" fill="#000" stroke="#000" stroke-width="0.1">*</text>
<rect x="604.9" y="1671.7" width="5.8" height="38.5" fill="#FFFFFF" fill-opacity="0.7"/>
<rect x="605.9" y="1672.7" width="3.8" height="36.5" fill="#000"/>
<text x="630.6" y="1701.5" font-size="23" text-anchor="middle" fill="#000" stroke="#000" stroke-width="0.1">**</text>
<rect x="604.9" y="1720.3" width="5.8" height="38.8" fill="#FFFFFF" fill-opacity="0.7"/>
<rect x="605.9" y="1721.3" width="3.8" height="36.8" fill="#000"/>
<text x="632.8" y="1752.1" font-size="23" text-anchor="middle" fill="#000" stroke="#000" stroke-width="0.1">**</text>
<rect x="625.5" y="1768.4" width="5.8" height="39.3" fill="#FFFFFF" fill-opacity="0.7"/>
<rect x="626.5" y="1769.4" width="3.8" height="37.3" fill="#000"/>
<text x="646.4" y="1800.3" font-size="23" text-anchor="middle" fill="#000" stroke="#000" stroke-width="0.1">*</text>
<line x1="594.1" y1="1811.9" x2="594.1" y2="1817.3" stroke="#333333" stroke-width="2"/>
<text x="594.1" y="1834" font-size="16.2" text-anchor="middle" fill="#444444" stroke="#444444" stroke-width="0.35">0.0%</text>
<line x1="791.3" y1="1811.9" x2="791.3" y2="1817.3" stroke="#333333" stroke-width="2"/>
<text x="791.3" y="1834" font-size="16.2" text-anchor="middle" fill="#444444" stroke="#444444" stroke-width="0.35">0.2%</text>
<line x1="988.5" y1="1811.9" x2="988.5" y2="1817.3" stroke="#333333" stroke-width="2"/>
<text x="988.5" y="1834" font-size="16.2" text-anchor="middle" fill="#444444" stroke="#444444" stroke-width="0.35">0.4%</text>
<line x1="1185.7" y1="1811.9" x2="1185.7" y2="1817.3" stroke="#333333" stroke-width="2"/>
<text x="1185.7" y="1834" font-size="16.2" text-anchor="middle" fill="#444444" stroke="#444444" stroke-width="0.35">0.6%</text>
<line x1="1382.9" y1="1811.9" x2="1382.9" y2="1817.3" stroke="#333333" stroke-width="2"/>
<text x="1382.9" y="1834" font-size="16.2" text-anchor="middle" fill="#444444" stroke="#444444" stroke-width="0.35">0.8%</text>
<text x="994.75" y="1854.9" font-size="16.33" text-anchor="middle" fill="#000" stroke="#000" stroke-width="0.35">Average Relative Abundance</text>
</g>
<g id="legend">
<text x="1536.1" y="112" font-size="14.6" fill="#000" stroke="#000" stroke-width="0.35">Species</text>
<rect x="1537" y="120.31" width="21.4" height="23.18" fill="#F2F2F2"/>
<rect x="1537" y="121.3" width="21.4" height="21.2" fill="#336B8E"/>
<text x="1566.5" y="136.8" font-size="12.06" fill="#000" stroke="#000" stroke-width="0.35">Actinomyces radingae</text>
<rect x="1537" y="143.49" width="21.4" height="23.18" fill="#F2F2F2"/>
<rect x="1537" y="144.48" width="21.4" height="21.2" fill="#8CFCF6"/>
<text x="1566.5" y="159.98" font-size="12.06" fill="#000" stroke="#000" stroke-width="0.35">Actinomyces turicensis</text>
<rect x="1537" y="166.67" width="21.4" height="23.18" fill="#F2F2F2"/>
<rect x="1537" y="167.66" width="21.4" height="21.2" fill="#A8CCFA"/>
<text x="1566.5" y="183.16" font-size="12.06" fill="#000" stroke="#000" stroke-width="0.35">Alistipes finegoldii</text>
<rect x="1537" y="189.85" width="21.4" height="23.18" fill="#F2F2F2"/>
<rect x="1537" y="190.84" width="21.4" height="21.2" fill="#A8CCFA"/>
<text x="1566.5" y="206.34" font-size="12.06" fill="#000" stroke="#000" stroke-width="0.35">Alistipes putredinis</text>
<rect x="1537" y="213.03" width="21.4" height="23.18" fill="#F2F2F2"/>
<rect x="1537" y="214.02" width="21.4" height="21.2" fill="#A0E8F4"/>
<text x="1566.5" y="229.52" font-size="12.06" fill="#000" stroke="#000" stroke-width="0.35">Alistipes shahii</text>
<rect x="1537" y="236.21" width="21.4" height="23.18" fill="#F2F2F2"/>
<rect x="1537" y="237.2" width="21.4" height="21.2" fill="#B8A09C"/>
<text x="1566.5" y="252.7" font-size="12.06" fill="#000" stroke="#000" stroke-width="0.35">Anaerococcus hydrogenalis</text>
<rect x="1537" y="259.39" width="21.4" height="23.18" fill="#F2F2F2"/>
<rect x="1537" y="260.38" width="21.4" height="21.2" fill="#E0C0B8"/>
<text x="1566.5" y="275.88" font-size="12.06" fill="#000" stroke="#000" stroke-width="0.35">Anaerococcus tetradius</text>
<rect x="1537" y="282.57" width="21.4" height="23.18" fill="#F2F2F2"/>
<rect x="1537" y="283.56" width="21.4" height="21.2" fill="#60DCD2"/>
<text x="1566.5" y="299.06" font-size="12.06" fill="#000" stroke="#000" stroke-width="0.35">Anaerostipes hadrus</text>
<rect x="1537" y="305.75" width="21.4" height="23.18" fill="#F2F2F2"/>
<rect x="1537" y="306.74" width="21.4" height="21.2" fill="#A6FCFC"/>
<text x="1566.5" y="322.24" font-size="12.06" fill="#000" stroke="#000" stroke-width="0.35">Bacteroides caccae</text>
<rect x="1537" y="328.93" width="21.4" height="23.18" fill="#F2F2F2"/>
<rect x="1537" y="329.92" width="21.4" height="21.2" fill="#ACF4FC"/>
<text x="1566.5" y="345.42" font-size="12.06" fill="#000" stroke="#000" stroke-width="0.35">Bacteroides dorei</text>
<rect x="1537" y="352.11" width="21.4" height="23.18" fill="#F2F2F2"/>
<rect x="1537" y="353.1" width="21.4" height="21.2" fill="#B0F0FC"/>
<text x="1566.5" y="368.6" font-size="12.06" fill="#000" stroke="#000" stroke-width="0.35">Bacteroides eggerthii</text>
<rect x="1537" y="375.29" width="21.4" height="23.18" fill="#F2F2F2"/>
<rect x="1537" y="376.28" width="21.4" height="21.2" fill="#B8E8FA"/>
<text x="1566.5" y="391.78" font-size="12.06" fill="#000" stroke="#000" stroke-width="0.35">Bacteroides finegoldii</text>
<rect x="1537" y="398.47" width="21.4" height="23.18" fill="#F2F2F2"/>
<rect x="1537" y="399.46" width="21.4" height="21.2" fill="#BEE8FA"/>
<text x="1566.5" y="414.96" font-size="12.06" fill="#000" stroke="#000" stroke-width="0.35">Bacteroides fragilis</text>
<rect x="1537" y="421.65" width="21.4" height="23.18" fill="#F2F2F2"/>
<rect x="1537" y="422.64" width="21.4" height="21.2" fill="#B0FEFE"/>
<text x="1566.5" y="438.14" font-size="12.06" fill="#000" stroke="#000" stroke-width="0.35">Bacteroides ovatus</text>
<rect x="1537" y="444.83" width="21.4" height="23.18" fill="#F2F2F2"/>
<rect x="1537" y="445.82" width="21.4" height="21.2" fill="#F484FA"/>
<text x="1566.5" y="461.32" font-size="12.06" fill="#000" stroke="#000" stroke-width="0.35">Bacteroides stercoris</text>
<rect x="1537" y="468.01" width="21.4" height="23.18" fill="#F2F2F2"/>
<rect x="1537" y="469" width="21.4" height="21.2" fill="#FC70FC"/>
<text x="1566.5" y="484.5" font-size="12.06" fill="#000" stroke="#000" stroke-width="0.35">Bacteroides thetaiotaomicron</text>
<rect x="1537" y="490.19" width="21.4" height="23.18" fill="#F2F2F2"/>
<rect x="1537" y="491.18" width="21.4" height="21.2" fill="#B0FCFC"/>
<text x="1566.5" y="506.68" font-size="12.06" fill="#000" stroke="#000" stroke-width="0.35">Bacteroides uniformis</text>
<rect x="1537" y="513.37" width="21.4" height="23.18" fill="#F2F2F2"/>
<rect x="1537" y="514.36" width="21.4" height="21.2" fill="#FC5CF8"/>
<text x="1566.5" y="529.86" font-size="12.06" fill="#000" stroke="#000" stroke-width="0.35">Bacteroides vulgatus</text>
<rect x="1537" y="536.55" width="21.4" height="23.18" fill="#F2F2F2"/>
<rect x="1537" y="537.54" width="21.4" height="21.2" fill="#E8C8FC"/>
<text x="1566.5" y="553.04" font-size="12.06" fill="#000" stroke="#000" stroke-width="0.35">Bacteroides xylanisolvens</text>
<rect x="1537" y="559.73" width="21.4" height="23.18" fill="#F2F2F2"/>
<rect x="1537" y="560.72" width="21.4" height="21.2" fill="#D4D4FC"/>
<text x="1566.5" y="576.22" font-size="12.06" fill="#000" stroke="#000" stroke-width="0.35">Bifidobacterium adolescentis</text>
<rect x="1537" y="582.91" width="21.4" height="23.18" fill="#F2F2F2"/>
<rect x="1537" y="583.9" width="21.4" height="21.2" fill="#CCE0FC"/>
<text x="1566.5" y="599.4" font-size="12.06" fill="#000" stroke="#000" stroke-width="0.35">Bifidobacterium angulatum</text>
<rect x="1537" y="606.09" width="21.4" height="23.18" fill="#F2F2F2"/>
<rect x="1537" y="607.08" width="21.4" height="21.2" fill="#68C8F8"/>
<text x="1566.5" y="622.58" font-size="12.06" fill="#000" stroke="#000" stroke-width="0.35">Bifidobacterium longum</text>
<rect x="1537" y="629.27" width="21.4" height="23.18" fill="#F2F2F2"/>
<rect x="1537" y="630.26" width="21.4" height="21.2" fill="#5CB8F8"/>
<text x="1566.5" y="645.76" font-size="12.06" fill="#000" stroke="#000" stroke-width="0.35">Bifidobacterium pseudocatenulatum</text>
<rect x="1537" y="652.45" width="21.4" height="23.18" fill="#F2F2F2"/>
<rect x="1537" y="653.44" width="21.4" height="21.2" fill="#70B0F4"/>
<text x="1566.5" y="668.94" font-size="12.06" fill="#000" stroke="#000" stroke-width="0.35">Blautia obeum</text>
<rect x="1537" y="675.63" width="21.4" height="23.18" fill="#F2F2F2"/>
<rect x="1537" y="676.62" width="21.4" height="21.2" fill="#B0BCF8"/>
<text x="1566.5" y="692.12" font-size="12.06" fill="#000" stroke="#000" stroke-width="0.35">Blautia wexlerae</text>
<rect x="1537" y="698.81" width="21.4" height="23.18" fill="#F2F2F2"/>
<rect x="1537" y="699.8" width="21.4" height="21.2" fill="#C0C8F8"/>
<text x="1566.5" y="715.3" font-size="12.06" fill="#000" stroke="#000" stroke-width="0.35">Brevibacterium mcbrellneri</text>
<rect x="1537" y="721.99" width="21.4" height="23.18" fill="#F2F2F2"/>
<rect x="1537" y="722.98" width="21.4" height="21.2" fill="#A0BCF8"/>
<text x="1566.5" y="738.48" font-size="12.06" fill="#000" stroke="#000" stroke-width="0.35">Brevibacterium ravenspurgense</text>
<rect x="1537" y="745.17" width="21.4" height="23.18" fill="#F2F2F2"/>
<rect x="1537" y="746.16" width="21.4" height="21.2" fill="#E89858"/>
<text x="1566.5" y="761.66" font-size="12.06" fill="#000" stroke="#000" stroke-width="0.35">Campylobacter hominis</text>
<rect x="1537" y="768.35" width="21.4" height="23.18" fill="#F2F2F2"/>
<rect x="1537" y="769.34" width="21.4" height="21.2" fill="#E8B0DC"/>
<text x="1566.5" y="784.84" font-size="12.06" fill="#000" stroke="#000" stroke-width="0.35">Campylobacter ureolyticus</text>
<rect x="1537" y="791.53" width="21.4" height="23.18" fill="#F2F2F2"/>
<rect x="1537" y="792.52" width="21.4" height="21.2" fill="#C0A0F0"/>
<text x="1566.5" y="808.02" font-size="12.06" fill="#000" stroke="#000" stroke-width="0.35">Catenibacterium mitsuokai</text>
<rect x="1537" y="814.71" width="21.4" height="23.18" fill="#F2F2F2"/>
<rect x="1537" y="815.7" width="21.4" height="21.2" fill="#F02C8C"/>
<text x="1566.5" y="831.2" font-size="12.06" fill="#000" stroke="#000" stroke-width="0.35">Chlamydia trachomatis</text>
<rect x="1537" y="837.89" width="21.4" height="23.18" fill="#F2F2F2"/>
<rect x="1537" y="838.88" width="21.4" height="21.2" fill="#5C38C0"/>
<text x="1566.5" y="854.38" font-size="12.06" fill="#000" stroke="#000" stroke-width="0.35">Clostridiales bacterium KA00134</text>
<rect x="1537" y="861.07" width="21.4" height="23.18" fill="#F2F2F2"/>
<rect x="1537" y="862.06" width="21.4" height="21.2" fill="#B060A8"/>
<text x="1566.5" y="877.56" font-size="12.06" fill="#000" stroke="#000" stroke-width="0.35">Clostridium bolteae</text>
<rect x="1537" y="884.25" width="21.4" height="23.18" fill="#F2F2F2"/>
<rect x="1537" y="885.24" width="21.4" height="21.2" fill="#D890B8"/>
<text x="1566.5" y="900.74" font-size="12.06" fill="#000" stroke="#000" stroke-width="0.35">Clostridium bolteae CAG 59</text>
<rect x="1537" y="908.73" width="21.4" height="23.18" fill="#F2F2F2"/>
<rect x="1537" y="909.72" width="21.4" height="21.2" fill="#D870A8"/>
<text x="1566.5" y="925.22" font-size="12.06" fill="#000" stroke="#000" stroke-width="0.35">Clostridium symbiosum</text>
<rect x="1537" y="931.91" width="21.4" height="23.18" fill="#F2F2F2"/>
<rect x="1537" y="932.9" width="21.4" height="21.2" fill="#B050A8"/>
<text x="1566.5" y="948.4" font-size="12.06" fill="#000" stroke="#000" stroke-width="0.35">Collinsella aerofaciens</text>
<rect x="1537" y="955.09" width="21.4" height="23.18" fill="#F2F2F2"/>
<rect x="1537" y="956.08" width="21.4" height="21.2" fill="#5060E0"/>
<text x="1566.5" y="971.58" font-size="12.06" fill="#000" stroke="#000" stroke-width="0.35">Coprococcus catus</text>
<rect x="1537" y="978.27" width="21.4" height="23.18" fill="#F2F2F2"/>
<rect x="1537" y="979.26" width="21.4" height="21.2" fill="#F0B8A8"/>
<text x="1566.5" y="994.76" font-size="12.06" fill="#000" stroke="#000" stroke-width="0.35">Coprococcus comes</text>
<rect x="1537" y="1001.45" width="21.4" height="23.18" fill="#F2F2F2"/>
<rect x="1537" y="1002.44" width="21.4" height="21.2" fill="#F498B8"/>
<text x="1566.5" y="1017.94" font-size="12.06" fill="#000" stroke="#000" stroke-width="0.35">Coprococcus eutactus</text>
<rect x="1537" y="1024.63" width="21.4" height="23.18" fill="#F2F2F2"/>
<rect x="1537" y="1025.62" width="21.4" height="21.2" fill="#EC9428"/>
<text x="1566.5" y="1041.12" font-size="12.06" fill="#000" stroke="#000" stroke-width="0.35">Corynebacterium amycolatum</text>
<rect x="1537" y="1047.81" width="21.4" height="23.18" fill="#F2F2F2"/>
<rect x="1537" y="1048.8" width="21.4" height="21.2" fill="#EC962C"/>
<text x="1566.5" y="1064.3" font-size="12.06" fill="#000" stroke="#000" stroke-width="0.35">Corynebacterium atypicum</text>
<rect x="1537" y="1070.99" width="21.4" height="23.18" fill="#F2F2F2"/>
<rect x="1537" y="1071.98" width="21.4" height="21.2" fill="#EC9830"/>
<text x="1566.5" y="1087.48" font-size="12.06" fill="#000" stroke="#000" stroke-width="0.35">Corynebacterium aurimucosum</text>
<rect x="1537" y="1094.17" width="21.4" height="23.18" fill="#F2F2F2"/>
<rect x="1537" y="1095.16" width="21.4" height="21.2" fill="#EC9C34"/>
<text x="1566.5" y="1110.66" font-size="12.06" fill="#000" stroke="#000" stroke-width="0.35">Corynebacterium freneyi</text>
<rect x="1537" y="1117.35" width="21.4" height="23.18" fill="#F2F2F2"/>
<rect x="1537" y="1118.34" width="21.4" height="21.2" fill="#ECA038"/>
<text x="1566.5" y="1133.84" font-size="12.06" fill="#000" stroke="#000" stroke-width="0.35">Corynebacterium imitans</text>
<rect x="1537" y="1140.53" width="21.4" height="23.18" fill="#F2F2F2"/>
<rect x="1537" y="1141.52" width="21.4" height="21.2" fill="#ECA23C"/>
<text x="1566.5" y="1157.02" font-size="12.06" fill="#000" stroke="#000" stroke-width="0.35">Corynebacterium jeikeium</text>
<rect x="1537" y="1163.71" width="21.4" height="23.18" fill="#F2F2F2"/>
<rect x="1537" y="1164.7" width="21.4" height="21.2" fill="#ECA440"/>
<text x="1566.5" y="1180.2" font-size="12.06" fill="#000" stroke="#000" stroke-width="0.35">Corynebacterium pseudogenitalium</text>
<rect x="1537" y="1186.89" width="21.4" height="23.18" fill="#F2F2F2"/>
<rect x="1537" y="1187.88" width="21.4" height="21.2" fill="#ECA644"/>
<text x="1566.5" y="1203.38" font-size="12.06" fill="#000" stroke="#000" stroke-width="0.35">Corynebacterium pyruviciproducens</text>
<rect x="1537" y="1210.07" width="21.4" height="23.18" fill="#F2F2F2"/>
<rect x="1537" y="1211.06" width="21.4" height="21.2" fill="#ECA848"/>
<text x="1566.5" y="1226.56" font-size="12.06" fill="#000" stroke="#000" stroke-width="0.35">Corynebacterium riegelii</text>
<rect x="1537" y="1233.25" width="21.4" height="23.18" fill="#F2F2F2"/>
<rect x="1537" y="1234.24" width="21.4" height="21.2" fill="#E8AC4C"/>
<text x="1566.5" y="1249.74" font-size="12.06" fill="#000" stroke="#000" stroke-width="0.35">Corynebacterium simulans</text>
<rect x="1537" y="1256.43" width="21.4" height="23.18" fill="#F2F2F2"/>
<rect x="1537" y="1257.42" width="21.4" height="21.2" fill="#E8AC50"/>
<text x="1566.5" y="1272.92" font-size="12.06" fill="#000" stroke="#000" stroke-width="0.35">Corynebacterium sp HMSC058E07</text>
<rect x="1537" y="1279.61" width="21.4" height="23.18" fill="#F2F2F2"/>
<rect x="1537" y="1280.6" width="21.4" height="21.2" fill="#E8AC50"/>
<text x="1566.5" y="1296.1" font-size="12.06" fill="#000" stroke="#000" stroke-width="0.35">Corynebacterium sp HMSC078H07</text>
<rect x="1537" y="1302.79" width="21.4" height="23.18" fill="#F2F2F2"/>
<rect x="1537" y="1303.78" width="21.4" height="21.2" fill="#E8B054"/>
<text x="1566.5" y="1319.28" font-size="12.06" fill="#000" stroke="#000" stroke-width="0.35">Corynebacterium sp HMSC08A12</text>
<rect x="1537" y="1325.97" width="21.4" height="23.18" fill="#F2F2F2"/>
<rect x="1537" y="1326.96" width="21.4" height="21.2" fill="#D4B448"/>
<text x="1566.5" y="1342.46" font-size="12.06" fill="#000" stroke="#000" stroke-width="0.35">Corynebacterium sp NML140438</text>
<rect x="1537" y="1349.15" width="21.4" height="23.18" fill="#F2F2F2"/>
<rect x="1537" y="1350.14" width="21.4" height="21.2" fill="#E8B058"/>
<text x="1566.5" y="1365.64" font-size="12.06" fill="#000" stroke="#000" stroke-width="0.35">Corynebacterium tuberculostearicum</text>
<rect x="1537" y="1372.33" width="21.4" height="23.18" fill="#F2F2F2"/>
<rect x="1537" y="1373.32" width="21.4" height="21.2" fill="#E8B058"/>
<text x="1566.5" y="1388.82" font-size="12.06" fill="#000" stroke="#000" stroke-width="0.35">Corynebacterium tuscaniense</text>
<rect x="1537" y="1395.51" width="21.4" height="23.18" fill="#F2F2F2"/>
<rect x="1537" y="1396.5" width="21.4" height="21.2" fill="#F4601C"/>
<text x="1566.5" y="1412" font-size="12.06" fill="#000" stroke="#000" stroke-width="0.35">Delftia tsuruhatensis</text>
<rect x="1537" y="1418.69" width="21.4" height="23.18" fill="#F2F2F2"/>
<rect x="1537" y="1419.68" width="21.4" height="21.2" fill="#E89028"/>
<text x="1566.5" y="1435.18" font-size="12.06" fill="#000" stroke="#000" stroke-width="0.35">Dialister micraerophilus</text>
<rect x="1537" y="1441.87" width="21.4" height="23.18" fill="#F2F2F2"/>
<rect x="1537" y="1442.86" width="21.4" height="21.2" fill="#B0A030"/>
<text x="1566.5" y="1458.36" font-size="12.06" fill="#000" stroke="#000" stroke-width="0.35">Dialister sp CAG 357</text>
<rect x="1537" y="1465.05" width="21.4" height="23.18" fill="#F2F2F2"/>
<rect x="1537" y="1466.04" width="21.4" height="21.2" fill="#F0C0D4"/>
<text x="1566.5" y="1481.54" font-size="12.06" fill="#000" stroke="#000" stroke-width="0.35">Dorea formicigenerans</text>
<rect x="1537" y="1488.23" width="21.4" height="23.18" fill="#F2F2F2"/>
<rect x="1537" y="1489.22" width="21.4" height="21.2" fill="#F4A8EC"/>
<text x="1566.5" y="1504.72" font-size="12.06" fill="#000" stroke="#000" stroke-width="0.35">Dorea longicatena</text>
<rect x="1537" y="1511.41" width="21.4" height="23.18" fill="#F2F2F2"/>
<rect x="1537" y="1512.4" width="21.4" height="21.2" fill="#DC90FC"/>
<text x="1566.5" y="1527.9" font-size="12.06" fill="#000" stroke="#000" stroke-width="0.35">Eggerthella lenta</text>
<rect x="1537" y="1534.59" width="21.4" height="23.18" fill="#F2F2F2"/>
<rect x="1537" y="1535.58" width="21.4" height="21.2" fill="#FC2C60"/>
<text x="1566.5" y="1551.08" font-size="12.06" fill="#000" stroke="#000" stroke-width="0.35">Enterobacter mori</text>
<rect x="1537" y="1557.77" width="21.4" height="23.18" fill="#F2F2F2"/>
<rect x="1537" y="1558.76" width="21.4" height="21.2" fill="#EC9CB8"/>
<text x="1566.5" y="1574.26" font-size="12.06" fill="#000" stroke="#000" stroke-width="0.35">Enterococcus faecalis</text>
<rect x="1537" y="1580.95" width="21.4" height="23.18" fill="#F2F2F2"/>
<rect x="1537" y="1581.94" width="21.4" height="21.2" fill="#F070A0"/>
<text x="1566.5" y="1597.44" font-size="12.06" fill="#000" stroke="#000" stroke-width="0.35">Enterococcus faecium</text>
<rect x="1537" y="1604.13" width="21.4" height="23.18" fill="#F2F2F2"/>
<rect x="1537" y="1605.12" width="21.4" height="21.2" fill="#E89428"/>
<text x="1566.5" y="1620.62" font-size="12.06" fill="#000" stroke="#000" stroke-width="0.35">Escherichia coli</text>
<rect x="1537" y="1627.31" width="21.4" height="23.18" fill="#F2F2F2"/>
<rect x="1537" y="1628.3" width="21.4" height="21.2" fill="#ECA0C0"/>
<text x="1566.5" y="1643.8" font-size="12.06" fill="#000" stroke="#000" stroke-width="0.35">Eubacterium eligens</text>
<rect x="1537" y="1650.49" width="21.4" height="23.18" fill="#F2F2F2"/>
<rect x="1537" y="1651.48" width="21.4" height="21.2" fill="#ECA0C4"/>
<text x="1566.5" y="1666.98" font-size="12.06" fill="#000" stroke="#000" stroke-width="0.35">Eubacterium hallii</text>
<rect x="1537" y="1673.67" width="21.4" height="23.18" fill="#F2F2F2"/>
<rect x="1537" y="1674.66" width="21.4" height="21.2" fill="#E8A0CC"/>
<text x="1566.5" y="1690.16" font-size="12.06" fill="#000" stroke="#000" stroke-width="0.35">Eubacterium nodatum</text>
<rect x="1768" y="122.9" width="21.4" height="19.6" fill="#ECA0C8"/>
<text x="1797.2" y="136.8" font-size="12.06" fill="#000" stroke="#000" stroke-width="0.35">Eubacterium ramulus</text>
<rect x="1768" y="143.47" width="21.4" height="23.14" fill="#F2F2F2"/>
<rect x="1768" y="144.45" width="21.4" height="21.2" fill="#ECA4CC"/>
<text x="1797.2" y="159.95" font-size="12.06" fill="#000" stroke="#000" stroke-width="0.35">Eubacterium siraeum</text>
<rect x="1768" y="166.62" width="21.4" height="23.14" fill="#F2F2F2"/>
<rect x="1768" y="167.59" width="21.4" height="21.2" fill="#F48CF8"/>
<text x="1797.2" y="183.09" font-size="12.06" fill="#000" stroke="#000" stroke-width="0.35">Faecalibacterium prausnitzii</text>
<rect x="1768" y="189.76" width="21.4" height="23.14" fill="#F2F2F2"/>
<rect x="1768" y="190.74" width="21.4" height="21.2" fill="#C4C8F8"/>
<text x="1797.2" y="206.24" font-size="12.06" fill="#000" stroke="#000" stroke-width="0.35">Flavonifractor plautii</text>
<rect x="1768" y="212.91" width="21.4" height="23.14" fill="#F2F2F2"/>
<rect x="1768" y="213.88" width="21.4" height="21.2" fill="#E0DCFA"/>
<text x="1797.2" y="229.38" font-size="12.06" fill="#000" stroke="#000" stroke-width="0.35">Gardnerella vaginalis</text>
<rect x="1768" y="236.05" width="21.4" height="23.14" fill="#F2F2F2"/>
<rect x="1768" y="237.03" width="21.4" height="21.2" fill="#F094B0"/>
<text x="1797.2" y="252.53" font-size="12.06" fill="#000" stroke="#000" stroke-width="0.35">Haemophilus haemolyticus</text>
<rect x="1768" y="259.2" width="21.4" height="23.14" fill="#F2F2F2"/>
<rect x="1768" y="260.17" width="21.4" height="21.2" fill="#D0A8FC"/>
<text x="1797.2" y="275.67" font-size="12.06" fill="#000" stroke="#000" stroke-width="0.35">Haemophilus parainfluenzae</text>
<rect x="1768" y="282.34" width="21.4" height="23.14" fill="#F2F2F2"/>
<rect x="1768" y="283.31" width="21.4" height="21.2" fill="#E89858"/>
<text x="1797.2" y="298.81" font-size="12.06" fill="#000" stroke="#000" stroke-width="0.35">Haemophilus sp HMSC71H05</text>
<rect x="1768" y="305.49" width="21.4" height="23.14" fill="#F2F2F2"/>
<rect x="1768" y="306.46" width="21.4" height="21.2" fill="#F484E8"/>
<text x="1797.2" y="321.96" font-size="12.06" fill="#000" stroke="#000" stroke-width="0.35">Intestinimonas butyriciproducens</text>
<rect x="1768" y="328.63" width="21.4" height="23.14" fill="#F2F2F2"/>
<rect x="1768" y="329.6" width="21.4" height="21.2" fill="#F08470"/>
<text x="1797.2" y="345.1" font-size="12.06" fill="#000" stroke="#000" stroke-width="0.35">Klebsiella pneumoniae</text>
<rect x="1768" y="351.78" width="21.4" height="23.14" fill="#F2F2F2"/>
<rect x="1768" y="352.75" width="21.4" height="21.2" fill="#F08480"/>
<text x="1797.2" y="368.25" font-size="12.06" fill="#000" stroke="#000" stroke-width="0.35">Klebsiella quasipneumoniae</text>
<rect x="1768" y="374.92" width="21.4" height="23.14" fill="#F2F2F2"/>
<rect x="1768" y="375.89" width="21.4" height="21.2" fill="#80FC80"/>
<text x="1797.2" y="391.39" font-size="12.06" fill="#000" stroke="#000" stroke-width="0.35">Lactobacillus crispatus</text>
<rect x="1768" y="398.07" width="21.4" height="23.14" fill="#F2F2F2"/>
<rect x="1768" y="399.04" width="21.4" height="21.2" fill="#609C68"/>
<text x="1797.2" y="414.54" font-size="12.06" fill="#000" stroke="#000" stroke-width="0.35">Lactobacillus iners</text>
<rect x="1768" y="421.21" width="21.4" height="23.14" fill="#F2F2F2"/>
<rect x="1768" y="422.18" width="21.4" height="21.2" fill="#88FCFC"/>
<text x="1797.2" y="437.68" font-size="12.06" fill="#000" stroke="#000" stroke-width="0.35">Mageeibacillus indolicus</text>
<rect x="1768" y="444.36" width="21.4" height="23.14" fill="#F2F2F2"/>
<rect x="1768" y="445.33" width="21.4" height="21.2" fill="#F08880"/>
<text x="1797.2" y="460.83" font-size="12.06" fill="#000" stroke="#000" stroke-width="0.35">Megamonas funiformis</text>
<rect x="1768" y="467.5" width="21.4" height="23.14" fill="#F2F2F2"/>
<rect x="1768" y="468.47" width="21.4" height="21.2" fill="#A0FCE0"/>
<text x="1797.2" y="483.97" font-size="12.06" fill="#000" stroke="#000" stroke-width="0.35">Micrococcus aloeverae</text>
<rect x="1768" y="490.65" width="21.4" height="23.15" fill="#F2F2F2"/>
<rect x="1768" y="491.62" width="21.4" height="21.2" fill="#A0FCD8"/>
<text x="1797.2" y="507.12" font-size="12.06" fill="#000" stroke="#000" stroke-width="0.35">Micrococcus luteus</text>
<rect x="1768" y="513.79" width="21.4" height="23.14" fill="#F2F2F2"/>
<rect x="1768" y="514.76" width="21.4" height="21.2" fill="#B0FCC8"/>
<text x="1797.2" y="530.26" font-size="12.06" fill="#000" stroke="#000" stroke-width="0.35">Micrococcus lylae</text>
<rect x="1768" y="536.94" width="21.4" height="23.14" fill="#F2F2F2"/>
<rect x="1768" y="537.91" width="21.4" height="21.2" fill="#E0F8B8"/>
<text x="1797.2" y="553.41" font-size="12.06" fill="#000" stroke="#000" stroke-width="0.35">Mitsuokella jalaludinii</text>
<rect x="1768" y="560.08" width="21.4" height="23.14" fill="#F2F2F2"/>
<rect x="1768" y="561.05" width="21.4" height="21.2" fill="#D4F8B0"/>
<text x="1797.2" y="576.55" font-size="12.06" fill="#000" stroke="#000" stroke-width="0.35">Mitsuokella multacida</text>
<rect x="1768" y="583.23" width="21.4" height="23.14" fill="#F2F2F2"/>
<rect x="1768" y="584.2" width="21.4" height="21.2" fill="#C8ECF8"/>
<text x="1797.2" y="599.7" font-size="12.06" fill="#000" stroke="#000" stroke-width="0.35">Mobiluncus curtisii</text>
<rect x="1768" y="606.37" width="21.4" height="23.14" fill="#F2F2F2"/>
<rect x="1768" y="607.35" width="21.4" height="21.2" fill="#88FCFC"/>
<text x="1797.2" y="622.85" font-size="12.06" fill="#000" stroke="#000" stroke-width="0.35">Mobiluncus mulieris</text>
<rect x="1768" y="629.52" width="21.4" height="23.14" fill="#F2F2F2"/>
<rect x="1768" y="630.49" width="21.4" height="21.2" fill="#E0F8B8"/>
<text x="1797.2" y="645.99" font-size="12.06" fill="#000" stroke="#000" stroke-width="0.35">Neisseria cinerea</text>
<rect x="1768" y="652.66" width="21.4" height="23.14" fill="#F2F2F2"/>
<rect x="1768" y="653.63" width="21.4" height="21.2" fill="#90D4FC"/>
<text x="1797.2" y="669.13" font-size="12.06" fill="#000" stroke="#000" stroke-width="0.35">Parabacteroides distasonis</text>
<rect x="1768" y="675.81" width="21.4" height="23.14" fill="#F2F2F2"/>
<rect x="1768" y="676.78" width="21.4" height="21.2" fill="#F0F8C4"/>
<text x="1797.2" y="692.28" font-size="12.06" fill="#000" stroke="#000" stroke-width="0.35">Peptoniphilus asaccharolyticus</text>
<rect x="1768" y="698.95" width="21.4" height="23.14" fill="#F2F2F2"/>
<rect x="1768" y="699.92" width="21.4" height="21.2" fill="#64A0D8"/>
<text x="1797.2" y="715.42" font-size="12.06" fill="#000" stroke="#000" stroke-width="0.35">Peptoniphilus harei</text>
<rect x="1768" y="722.1" width="21.4" height="23.14" fill="#F2F2F2"/>
<rect x="1768" y="723.07" width="21.4" height="21.2" fill="#3C78CC"/>
<text x="1797.2" y="738.57" font-size="12.06" fill="#000" stroke="#000" stroke-width="0.35">Peptoniphilus lacrimalis</text>
<rect x="1768" y="745.24" width="21.4" height="23.14" fill="#F2F2F2"/>
<rect x="1768" y="746.21" width="21.4" height="21.2" fill="#B0B0FC"/>
<text x="1797.2" y="761.71" font-size="12.06" fill="#000" stroke="#000" stroke-width="0.35">Peptoniphilus sp DNF00840</text>
<rect x="1768" y="768.39" width="21.4" height="23.14" fill="#F2F2F2"/>
<rect x="1768" y="769.36" width="21.4" height="21.2" fill="#6870F4"/>
<text x="1797.2" y="784.86" font-size="12.06" fill="#000" stroke="#000" stroke-width="0.35">Peptostreptococcus anaerobius</text>
<rect x="1768" y="791.53" width="21.4" height="23.14" fill="#F2F2F2"/>
<rect x="1768" y="792.5" width="21.4" height="21.2" fill="#F0A8A8"/>
<text x="1797.2" y="808" font-size="12.06" fill="#000" stroke="#000" stroke-width="0.35">Phascolarctobacterium faecium</text>
<rect x="1769" y="816.68" width="21.4" height="23.14" fill="#F2F2F2"/>
<rect x="1769" y="817.65" width="21.4" height="21.2" fill="#F0BCB0"/>
<text x="1798.2" y="833.15" font-size="12.06" fill="#000" stroke="#000" stroke-width="0.35">Phascolarctobacterium succinatutens</text>
<rect x="1769" y="839.82" width="21.4" height="23.14" fill="#F2F2F2"/>
<rect x="1769" y="840.79" width="21.4" height="21.2" fill="#741A10"/>
<text x="1798.2" y="856.29" font-size="12.06" fill="#000" stroke="#000" stroke-width="0.35">Porphyromonas asaccharolytica</text>
<rect x="1769" y="862.97" width="21.4" height="23.14" fill="#F2F2F2"/>
<rect x="1769" y="863.94" width="21.4" height="21.2" fill="#9C2014"/>
<text x="1798.2" y="879.44" font-size="12.06" fill="#000" stroke="#000" stroke-width="0.35">Porphyromonas uenonis</text>
<rect x="1769" y="886.11" width="21.4" height="23.14" fill="#F2F2F2"/>
<rect x="1769" y="887.08" width="21.4" height="21.2" fill="#DC3C40"/>
<text x="1798.2" y="902.58" font-size="12.06" fill="#000" stroke="#000" stroke-width="0.35">Prevotella bergensis</text>
<rect x="1768" y="907.86" width="21.4" height="23.14" fill="#F2F2F2"/>
<rect x="1768" y="908.83" width="21.4" height="21.2" fill="#E04448"/>
<text x="1797.2" y="924.33" font-size="12.06" fill="#000" stroke="#000" stroke-width="0.35">Prevotella buccalis</text>
<rect x="1768" y="931" width="21.4" height="23.14" fill="#F2F2F2"/>
<rect x="1768" y="931.97" width="21.4" height="21.2" fill="#E05058"/>
<text x="1797.2" y="947.47" font-size="12.06" fill="#000" stroke="#000" stroke-width="0.35">Prevotella disiens</text>
<rect x="1768" y="954.15" width="21.4" height="23.14" fill="#F2F2F2"/>
<rect x="1768" y="955.12" width="21.4" height="21.2" fill="#E04C60"/>
<text x="1797.2" y="970.62" font-size="12.06" fill="#000" stroke="#000" stroke-width="0.35">Prevotella fusca</text>
<rect x="1768" y="977.29" width="21.4" height="23.14" fill="#F2F2F2"/>
<rect x="1768" y="978.26" width="21.4" height="21.2" fill="#E0545C"/>
<text x="1797.2" y="993.76" font-size="12.06" fill="#000" stroke="#000" stroke-width="0.35">Prevotella intermedia</text>
<rect x="1768" y="1000.44" width="21.4" height="23.14" fill="#F2F2F2"/>
<rect x="1768" y="1001.41" width="21.4" height="21.2" fill="#EC9098"/>
<text x="1797.2" y="1016.91" font-size="12.06" fill="#000" stroke="#000" stroke-width="0.35">Prevotella timonensis</text>
<rect x="1768" y="1023.58" width="21.4" height="23.14" fill="#F2F2F2"/>
<rect x="1768" y="1024.56" width="21.4" height="21.2" fill="#E8C080"/>
<text x="1797.2" y="1040.06" font-size="12.06" fill="#000" stroke="#000" stroke-width="0.35">Pseudoglutamicibacter albus</text>
<rect x="1768" y="1046.73" width="21.4" height="23.14" fill="#F2F2F2"/>
<rect x="1768" y="1047.7" width="21.4" height="21.2" fill="#E8C888"/>
<text x="1797.2" y="1063.2" font-size="12.06" fill="#000" stroke="#000" stroke-width="0.35">Pseudoglutamicibacter cumminsii</text>
<rect x="1768" y="1069.87" width="21.4" height="23.14" fill="#F2F2F2"/>
<rect x="1768" y="1070.85" width="21.4" height="21.2" fill="#F06898"/>
<text x="1797.2" y="1086.35" font-size="12.06" fill="#000" stroke="#000" stroke-width="0.35">Pseudomonas fluorescens group</text>
<rect x="1768" y="1093.02" width="21.4" height="23.14" fill="#F2F2F2"/>
<rect x="1768" y="1093.99" width="21.4" height="21.2" fill="#F068A0"/>
<text x="1797.2" y="1109.49" font-size="12.06" fill="#000" stroke="#000" stroke-width="0.35">Pseudomonas yamanorum</text>
<rect x="1768" y="1116.16" width="21.4" height="23.14" fill="#F2F2F2"/>
<rect x="1768" y="1117.14" width="21.4" height="21.2" fill="#F470B0"/>
<text x="1797.2" y="1132.64" font-size="12.06" fill="#000" stroke="#000" stroke-width="0.35">Roseburia faecis</text>
<rect x="1768" y="1139.31" width="21.4" height="23.14" fill="#F2F2F2"/>
<rect x="1768" y="1140.28" width="21.4" height="21.2" fill="#F078E0"/>
<text x="1797.2" y="1155.78" font-size="12.06" fill="#000" stroke="#000" stroke-width="0.35">Roseburia intestinalis</text>
<rect x="1768" y="1162.45" width="21.4" height="23.14" fill="#F2F2F2"/>
<rect x="1768" y="1163.43" width="21.4" height="21.2" fill="#E884F4"/>
<text x="1797.2" y="1178.93" font-size="12.06" fill="#000" stroke="#000" stroke-width="0.35">Roseburia inulinivorans</text>
<rect x="1768" y="1185.6" width="21.4" height="23.14" fill="#F2F2F2"/>
<rect x="1768" y="1186.57" width="21.4" height="21.2" fill="#7C3474"/>
<text x="1797.2" y="1202.07" font-size="12.06" fill="#000" stroke="#000" stroke-width="0.35">Ruminococcus champanellensis</text>
<rect x="1768" y="1208.74" width="21.4" height="23.14" fill="#F2F2F2"/>
<rect x="1768" y="1209.72" width="21.4" height="21.2" fill="#7C4478"/>
<text x="1797.2" y="1225.22" font-size="12.06" fill="#000" stroke="#000" stroke-width="0.35">Ruminococcus lactaris</text>
<rect x="1768" y="1231.89" width="21.4" height="23.14" fill="#F2F2F2"/>
<rect x="1768" y="1232.86" width="21.4" height="21.2" fill="#7C587C"/>
<text x="1797.2" y="1248.36" font-size="12.06" fill="#000" stroke="#000" stroke-width="0.35">Ruminococcus torques</text>
<rect x="1768" y="1255.03" width="21.4" height="23.14" fill="#F2F2F2"/>
<rect x="1768" y="1256.01" width="21.4" height="21.2" fill="#8C509C"/>
<text x="1797.2" y="1271.51" font-size="12.06" fill="#000" stroke="#000" stroke-width="0.35">Slackia isoflavoniconvertens</text>
<rect x="1768" y="1278.18" width="21.4" height="23.14" fill="#F2F2F2"/>
<rect x="1768" y="1279.15" width="21.4" height="21.2" fill="#B8E8F8"/>
<text x="1797.2" y="1294.65" font-size="12.06" fill="#000" stroke="#000" stroke-width="0.35">Streptococcus agalactiae</text>
<rect x="1768" y="1301.32" width="21.4" height="23.14" fill="#F2F2F2"/>
<rect x="1768" y="1302.3" width="21.4" height="21.2" fill="#A8D8F0"/>
<text x="1797.2" y="1317.8" font-size="12.06" fill="#000" stroke="#000" stroke-width="0.35">Streptococcus infantarius</text>
<rect x="1768" y="1324.47" width="21.4" height="23.14" fill="#F2F2F2"/>
<rect x="1768" y="1325.44" width="21.4" height="21.2" fill="#A4D4F0"/>
<text x="1797.2" y="1340.94" font-size="12.06" fill="#000" stroke="#000" stroke-width="0.35">Streptococcus lutetiensis</text>
<rect x="1768" y="1347.61" width="21.4" height="23.14" fill="#F2F2F2"/>
<rect x="1768" y="1348.59" width="21.4" height="21.2" fill="#A0CCEC"/>
<text x="1797.2" y="1364.09" font-size="12.06" fill="#000" stroke="#000" stroke-width="0.35">Streptococcus mitis</text>
<rect x="1768" y="1370.76" width="21.4" height="23.14" fill="#F2F2F2"/>
<rect x="1768" y="1371.73" width="21.4" height="21.2" fill="#98C4E8"/>
<text x="1797.2" y="1387.23" font-size="12.06" fill="#000" stroke="#000" stroke-width="0.35">Streptococcus pasteurianus</text>
<rect x="1768" y="1393.9" width="21.4" height="23.14" fill="#F2F2F2"/>
<rect x="1768" y="1394.88" width="21.4" height="21.2" fill="#90BCE4"/>
<text x="1797.2" y="1410.38" font-size="12.06" fill="#000" stroke="#000" stroke-width="0.35">Streptococcus salivarius</text>
<rect x="1768" y="1417.05" width="21.4" height="23.14" fill="#F2F2F2"/>
<rect x="1768" y="1418.02" width="21.4" height="21.2" fill="#B068C8"/>
<text x="1797.2" y="1433.52" font-size="12.06" fill="#000" stroke="#000" stroke-width="0.35">Tissierellia bacterium KA00581</text>
<rect x="1768" y="1440.19" width="21.4" height="23.14" fill="#F2F2F2"/>
<rect x="1768" y="1441.16" width="21.4" height="21.2" fill="#B45CB8"/>
<text x="1797.2" y="1456.66" font-size="12.06" fill="#000" stroke="#000" stroke-width="0.35">Trueperella bernardiae</text>
<rect x="1768" y="1463.34" width="21.4" height="23.14" fill="#F2F2F2"/>
<rect x="1768" y="1464.31" width="21.4" height="21.2" fill="#B03860"/>
<text x="1797.2" y="1479.81" font-size="12.06" fill="#000" stroke="#000" stroke-width="0.35">Ureaplasma parvum</text>
<rect x="1768" y="1486.48" width="21.4" height="23.14" fill="#F2F2F2"/>
<rect x="1768" y="1487.46" width="21.4" height="21.2" fill="#C44858"/>
<text x="1797.2" y="1502.96" font-size="12.06" fill="#000" stroke="#000" stroke-width="0.35">Ureaplasma urealyticum</text>
<rect x="1768" y="1509.63" width="21.4" height="23.14" fill="#F2F2F2"/>
<rect x="1768" y="1510.6" width="21.4" height="21.2" fill="#B44C98"/>
<text x="1797.2" y="1526.1" font-size="12.06" fill="#000" stroke="#000" stroke-width="0.35">Varibaculum cambriense</text>
<rect x="1768" y="1532.77" width="21.4" height="23.14" fill="#F2F2F2"/>
<rect x="1768" y="1533.75" width="21.4" height="21.2" fill="#B44890"/>
<text x="1797.2" y="1549.25" font-size="12.06" fill="#000" stroke="#000" stroke-width="0.35">Veillonella atypica</text>
<rect x="1768" y="1555.92" width="21.4" height="23.14" fill="#F2F2F2"/>
<rect x="1768" y="1556.89" width="21.4" height="21.2" fill="#B43C78"/>
<text x="1797.2" y="1572.39" font-size="12.06" fill="#000" stroke="#000" stroke-width="0.35">Veillonella montpellierensis</text>
<rect x="1768" y="1579.06" width="21.4" height="23.14" fill="#F2F2F2"/>
<rect x="1768" y="1580.04" width="21.4" height="21.2" fill="#B03C6C"/>
<text x="1797.2" y="1595.54" font-size="12.06" fill="#000" stroke="#000" stroke-width="0.35">Veillonella parvula</text>
<rect x="1768" y="1602.21" width="21.4" height="23.14" fill="#F2F2F2"/>
<rect x="1768" y="1603.18" width="21.4" height="21.2" fill="#4084A8"/>
<text x="1797.2" y="1618.68" font-size="12.06" fill="#000" stroke="#000" stroke-width="0.35">Weissella confusa</text>
</g>
</svg>
</body>
</html>
